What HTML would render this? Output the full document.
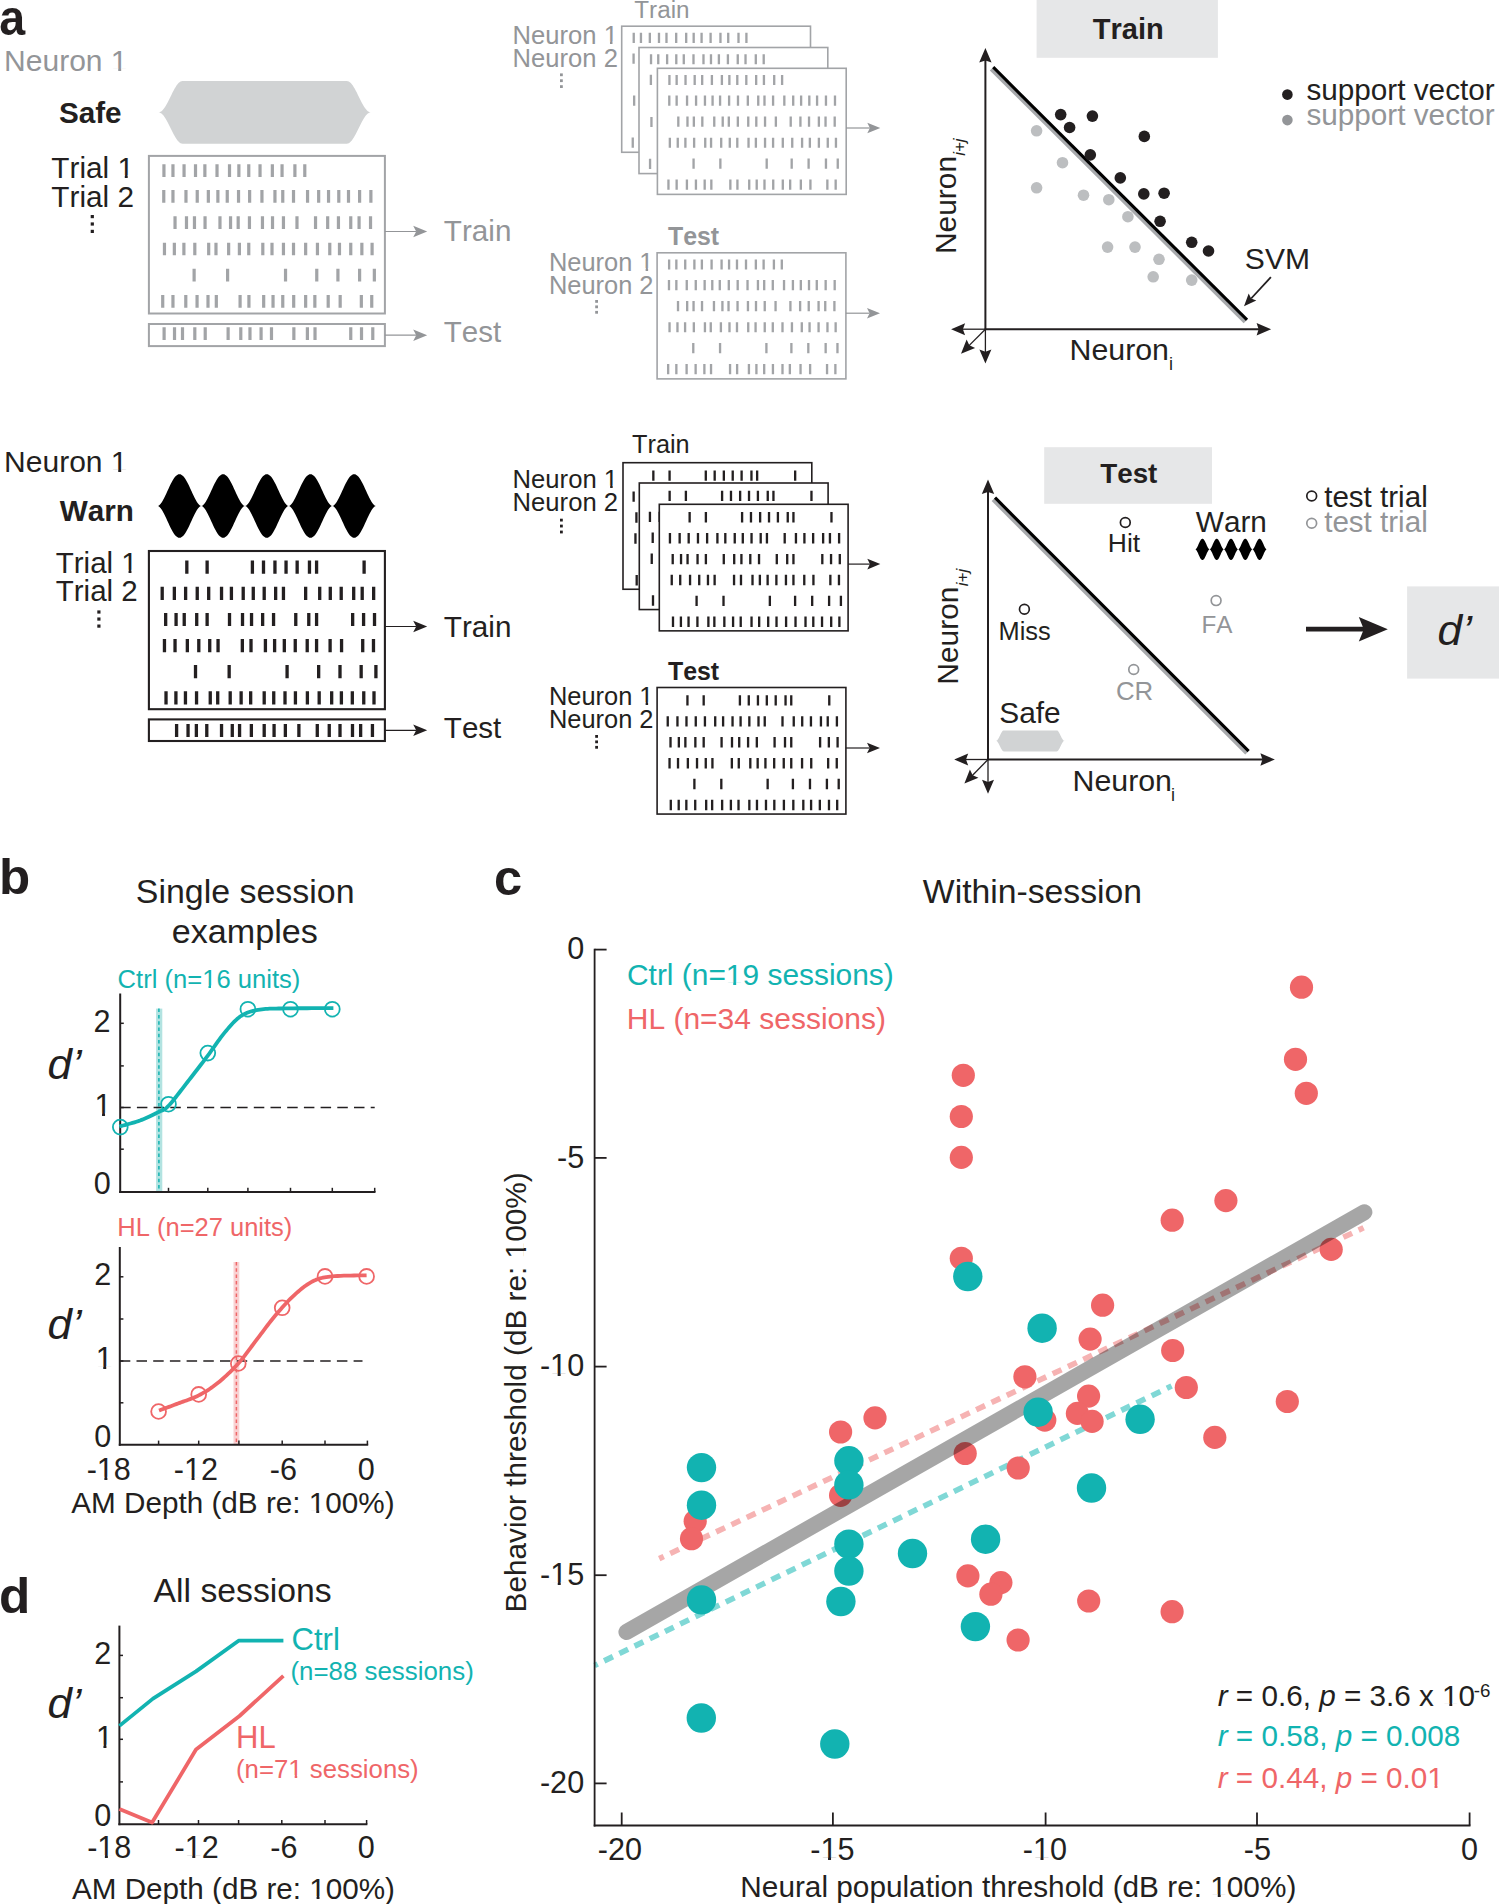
<!DOCTYPE html>
<html><head><meta charset="utf-8"><style>
html,body{margin:0;padding:0;background:#fff;overflow:hidden;}
svg{display:block;}
text{font-family:"Liberation Sans", sans-serif;font-kerning:none;}
</style></head><body>
<svg width="1499" height="1904" viewBox="0 0 1499 1904">
<defs></defs>
<rect width="1499" height="1904" fill="#fff"/>
<g transform="translate(-0.8 34.69) scale(0.9172 1)"><text x="0" y="0" font-size="50.78" font-weight="bold" fill="#231f20" xml:space="preserve">a</text></g>
<g transform="translate(4.12 71.1) scale(1.0000 1)"><text x="0" y="0" font-size="30" fill="#939598" xml:space="preserve">Neuron 1</text><rect x="107.63" y="-2.85" width="6.48" height="3.75" fill="#fff"/><rect x="117.05" y="-2.85" width="6.48" height="3.75" fill="#fff"/></g>
<g transform="translate(58.91 123.2) scale(1.0000 1)"><text x="0" y="0" font-size="29.69" font-weight="bold" fill="#231f20" xml:space="preserve">Safe</text></g>
<path d="M158.5,112.35 L159.5,112.22 L160.5,111.82 L161.5,111.16 L162.5,110.25 L163.5,109.11 L164.5,107.76 L165.5,106.22 L166.5,104.51 L167.5,102.67 L168.5,100.73 L169.5,98.72 L170.5,96.67 L171.5,94.63 L172.5,92.62 L173.5,90.68 L174.5,88.84 L175.5,87.13 L176.5,85.59 L177.5,84.24 L178.5,83.1 L179.5,82.19 L180.5,81.53 L181.5,81.13 L182.5,81 L346.8,81 L347.8,81.13 L348.8,81.53 L349.8,82.19 L350.8,83.1 L351.8,84.24 L352.8,85.59 L353.8,87.13 L354.8,88.84 L355.8,90.68 L356.8,92.62 L357.8,94.63 L358.8,96.67 L359.8,98.72 L360.8,100.73 L361.8,102.67 L362.8,104.51 L363.8,106.22 L364.8,107.76 L365.8,109.11 L366.8,110.25 L367.8,111.16 L368.8,111.82 L369.8,112.22 L370.8,112.35 L370.8,112.35 L369.8,112.48 L368.8,112.88 L367.8,113.54 L366.8,114.45 L365.8,115.59 L364.8,116.94 L363.8,118.48 L362.8,120.19 L361.8,122.03 L360.8,123.97 L359.8,125.98 L358.8,128.02 L357.8,130.07 L356.8,132.08 L355.8,134.02 L354.8,135.86 L353.8,137.57 L352.8,139.11 L351.8,140.46 L350.8,141.6 L349.8,142.51 L348.8,143.17 L347.8,143.57 L346.8,143.7 L182.5,143.7 L181.5,143.57 L180.5,143.17 L179.5,142.51 L178.5,141.6 L177.5,140.46 L176.5,139.11 L175.5,137.57 L174.5,135.86 L173.5,134.02 L172.5,132.08 L171.5,130.07 L170.5,128.02 L169.5,125.98 L168.5,123.97 L167.5,122.03 L166.5,120.19 L165.5,118.48 L164.5,116.94 L163.5,115.59 L162.5,114.45 L161.5,113.54 L160.5,112.88 L159.5,112.48 L158.5,112.35Z" fill="#d1d3d4"/>
<g transform="translate(51.33 206.6) scale(1.0000 1)"><text x="0" y="0" font-size="29.76" fill="#231f20" xml:space="preserve">Trial 2</text></g>
<g transform="translate(51.33 177.8) scale(1.0000 1)"><text x="0" y="0" font-size="29.76" fill="#231f20" xml:space="preserve">Trial 1</text><rect x="67.03" y="-2.83" width="6.43" height="3.72" fill="#fff"/><rect x="76.37" y="-2.83" width="6.43" height="3.72" fill="#fff"/></g>
<rect x="90.7" y="215" width="3.2" height="3.2" fill="#231f20" stroke="none" stroke-width="0"/>
<rect x="90.7" y="222.4" width="3.2" height="3.2" fill="#231f20" stroke="none" stroke-width="0"/>
<rect x="90.7" y="229.8" width="3.2" height="3.2" fill="#231f20" stroke="none" stroke-width="0"/>
<rect x="148.9" y="155.9" width="236" height="157.6" fill="none" stroke="#a2a4a7" stroke-width="2"/>
<path d="M163.94,164.2v12.7M172.96,164.2v12.7M184.06,164.2v12.7M195.51,164.2v12.7M204.87,164.2v12.7M217.02,164.2v12.7M229.51,164.2v12.7M238.87,164.2v12.7M248.76,164.2v12.7M260.03,164.2v12.7M272.35,164.2v12.7M282.06,164.2v12.7M294.9,164.2v12.7M304.79,164.2v12.7" stroke="#a2a4a7" stroke-width="3.2" fill="none"/>
<path d="M163.76,190.05v12.7M172.96,190.05v12.7M185.97,190.05v12.7M197.24,190.05v12.7M208.34,190.05v12.7M217.88,190.05v12.7M227.25,190.05v12.7M238.53,190.05v12.7M249.63,190.05v12.7M261.94,190.05v12.7M274.95,190.05v12.7M282.76,190.05v12.7M293.51,190.05v12.7M307.56,190.05v12.7M318.66,190.05v12.7M328.55,190.05v12.7M338.79,190.05v12.7M348.5,190.05v12.7M359.6,190.05v12.7M370.88,190.05v12.7" stroke="#a2a4a7" stroke-width="3.2" fill="none"/>
<path d="M175.04,216.3v12.7M186.49,216.3v12.7M194.47,216.3v12.7M205.05,216.3v12.7M219.97,216.3v12.7M230.55,216.3v12.7M238.18,216.3v12.7M249.45,216.3v12.7M262.46,216.3v12.7M272.52,216.3v12.7M283.45,216.3v12.7M296.98,216.3v12.7M315.54,216.3v12.7M327.68,216.3v12.7M338.44,216.3v12.7M350.75,216.3v12.7M359.08,216.3v12.7M370.53,216.3v12.7" stroke="#a2a4a7" stroke-width="3.2" fill="none"/>
<path d="M164.46,242.65v12.7M174.35,242.65v12.7M183.89,242.65v12.7M194.81,242.65v12.7M208.69,242.65v12.7M215.98,242.65v12.7M228.64,242.65v12.7M239.39,242.65v12.7M248.76,242.65v12.7M262.81,242.65v12.7M272,242.65v12.7M283.45,242.65v12.7M293.51,242.65v12.7M305.65,242.65v12.7M317.45,242.65v12.7M329.77,242.65v12.7M339.48,242.65v12.7M350.75,242.65v12.7M361.86,242.65v12.7M372.09,242.65v12.7" stroke="#a2a4a7" stroke-width="3.2" fill="none"/>
<path d="M194.12,268.7v12.7M227.6,268.7v12.7M285.53,268.7v12.7M316.76,268.7v12.7M337.92,268.7v12.7M359.6,268.7v12.7M374.35,268.7v12.7" stroke="#a2a4a7" stroke-width="3.2" fill="none"/>
<path d="M162.72,295v12.7M172.96,295v12.7M185.79,295v12.7M197.07,295v12.7M208,295v12.7M216.32,295v12.7M240.09,295v12.7M248.93,295v12.7M263.68,295v12.7M273.04,295v12.7M282.76,295v12.7M293.69,295v12.7M305.65,295v12.7M314.85,295v12.7M328.2,295v12.7M340.17,295v12.7M361.34,295v12.7M371.74,295v12.7" stroke="#a2a4a7" stroke-width="3.2" fill="none"/>
<rect x="148.9" y="324" width="236" height="22.1" fill="none" stroke="#a2a4a7" stroke-width="2"/>
<path d="M164.11,327.3v12.7M174.52,327.3v12.7M182.5,327.3v12.7M194.81,327.3v12.7M205.22,327.3v12.7M228.12,327.3v12.7M240.78,327.3v12.7M249.97,327.3v12.7M261.08,327.3v12.7M271.48,327.3v12.7M293.86,327.3v12.7M307.39,327.3v12.7M315.02,327.3v12.7M350.75,327.3v12.7M361.51,327.3v12.7M372.78,327.3v12.7" stroke="#a2a4a7" stroke-width="3.2" fill="none"/>
<line x1="384.9" y1="231.5" x2="416.2" y2="231.5" stroke="#939598" stroke-width="1.2"/>
<path d="M427.2,231.5 L413.2,237.3 L416.2,231.5 L413.2,225.7 Z" fill="#939598"/>
<line x1="384.9" y1="335.2" x2="416.2" y2="335.2" stroke="#939598" stroke-width="1.2"/>
<path d="M427.2,335.2 L413.2,341 L416.2,335.2 L413.2,329.4 Z" fill="#939598"/>
<g transform="translate(443.83 241) scale(1.0000 1)"><text x="0" y="0" font-size="29.65" fill="#939598" xml:space="preserve">Train</text></g>
<g transform="translate(443.84 342) scale(1.0000 1)"><text x="0" y="0" font-size="29.5" fill="#939598" xml:space="preserve">Test</text></g>
<g transform="translate(634.25 18.1) scale(1.0000 1)"><text x="0" y="0" font-size="24.26" fill="#939598" xml:space="preserve">Train</text></g>
<g transform="translate(512.59 66.7) scale(1.0000 1)"><text x="0" y="0" font-size="25.6" fill="#939598" xml:space="preserve">Neuron 2</text></g>
<g transform="translate(512.59 44) scale(1.0000 1)"><text x="0" y="0" font-size="25.6" fill="#939598" xml:space="preserve">Neuron 1</text><rect x="91.86" y="-2.43" width="5.53" height="3.2" fill="#fff"/><rect x="99.9" y="-2.43" width="5.53" height="3.2" fill="#fff"/></g>
<rect x="560" y="73.4" width="2.8" height="2.8" fill="#939598" stroke="none" stroke-width="0"/>
<rect x="560" y="79.3" width="2.8" height="2.8" fill="#939598" stroke="none" stroke-width="0"/>
<rect x="560" y="85.2" width="2.8" height="2.8" fill="#939598" stroke="none" stroke-width="0"/>
<g transform="translate(621.7 26.2) scale(0.8)"><rect x="0" y="0" width="236" height="157.6" fill="#fff" stroke="#a2a4a7" stroke-width="2"/><path d="M15.04,8.3v12.7M24.06,8.3v12.7M35.16,8.3v12.7M46.61,8.3v12.7M55.97,8.3v12.7M68.12,8.3v12.7M80.61,8.3v12.7M89.97,8.3v12.7M99.86,8.3v12.7M111.13,8.3v12.7M123.45,8.3v12.7M133.16,8.3v12.7M146,8.3v12.7M155.89,8.3v12.7M14.86,34.15v12.7M24.06,34.15v12.7M37.07,34.15v12.7M48.34,34.15v12.7M59.44,34.15v12.7M68.98,34.15v12.7M78.35,34.15v12.7M89.63,34.15v12.7M100.73,34.15v12.7M113.04,34.15v12.7M126.05,34.15v12.7M133.86,34.15v12.7M144.61,34.15v12.7M158.66,34.15v12.7M169.76,34.15v12.7M179.65,34.15v12.7M189.89,34.15v12.7M199.6,34.15v12.7M210.7,34.15v12.7M221.98,34.15v12.7M26.14,60.4v12.7M37.59,60.4v12.7M45.57,60.4v12.7M56.15,60.4v12.7M71.07,60.4v12.7M81.65,60.4v12.7M89.28,60.4v12.7M100.55,60.4v12.7M113.56,60.4v12.7M123.62,60.4v12.7M134.55,60.4v12.7M148.08,60.4v12.7M166.64,60.4v12.7M178.78,60.4v12.7M189.54,60.4v12.7M201.85,60.4v12.7M210.18,60.4v12.7M221.63,60.4v12.7M15.56,86.75v12.7M25.45,86.75v12.7M34.99,86.75v12.7M45.91,86.75v12.7M59.79,86.75v12.7M67.08,86.75v12.7M79.74,86.75v12.7M90.49,86.75v12.7M99.86,86.75v12.7M113.91,86.75v12.7M123.1,86.75v12.7M134.55,86.75v12.7M144.61,86.75v12.7M156.75,86.75v12.7M168.55,86.75v12.7M180.87,86.75v12.7M190.58,86.75v12.7M201.85,86.75v12.7M212.96,86.75v12.7M223.19,86.75v12.7M45.22,112.8v12.7M78.7,112.8v12.7M136.63,112.8v12.7M167.86,112.8v12.7M189.02,112.8v12.7M210.7,112.8v12.7M225.45,112.8v12.7M13.82,139.1v12.7M24.06,139.1v12.7M36.89,139.1v12.7M48.17,139.1v12.7M59.1,139.1v12.7M67.42,139.1v12.7M91.19,139.1v12.7M100.03,139.1v12.7M114.78,139.1v12.7M124.14,139.1v12.7M133.86,139.1v12.7M144.79,139.1v12.7M156.75,139.1v12.7M165.95,139.1v12.7M179.3,139.1v12.7M191.27,139.1v12.7M212.44,139.1v12.7M222.84,139.1v12.7" stroke="#a2a4a7" stroke-width="2.9" fill="none"/></g>
<g transform="translate(639 47.5) scale(0.8)"><rect x="0" y="0" width="236" height="157.6" fill="#fff" stroke="#a2a4a7" stroke-width="2"/><path d="M15.04,8.3v12.7M24.06,8.3v12.7M35.16,8.3v12.7M46.61,8.3v12.7M55.97,8.3v12.7M68.12,8.3v12.7M80.61,8.3v12.7M89.97,8.3v12.7M99.86,8.3v12.7M111.13,8.3v12.7M123.45,8.3v12.7M133.16,8.3v12.7M146,8.3v12.7M155.89,8.3v12.7M14.86,34.15v12.7M24.06,34.15v12.7M37.07,34.15v12.7M48.34,34.15v12.7M59.44,34.15v12.7M68.98,34.15v12.7M78.35,34.15v12.7M89.63,34.15v12.7M100.73,34.15v12.7M113.04,34.15v12.7M126.05,34.15v12.7M133.86,34.15v12.7M144.61,34.15v12.7M158.66,34.15v12.7M169.76,34.15v12.7M179.65,34.15v12.7M189.89,34.15v12.7M199.6,34.15v12.7M210.7,34.15v12.7M221.98,34.15v12.7M26.14,60.4v12.7M37.59,60.4v12.7M45.57,60.4v12.7M56.15,60.4v12.7M71.07,60.4v12.7M81.65,60.4v12.7M89.28,60.4v12.7M100.55,60.4v12.7M113.56,60.4v12.7M123.62,60.4v12.7M134.55,60.4v12.7M148.08,60.4v12.7M166.64,60.4v12.7M178.78,60.4v12.7M189.54,60.4v12.7M201.85,60.4v12.7M210.18,60.4v12.7M221.63,60.4v12.7M15.56,86.75v12.7M25.45,86.75v12.7M34.99,86.75v12.7M45.91,86.75v12.7M59.79,86.75v12.7M67.08,86.75v12.7M79.74,86.75v12.7M90.49,86.75v12.7M99.86,86.75v12.7M113.91,86.75v12.7M123.1,86.75v12.7M134.55,86.75v12.7M144.61,86.75v12.7M156.75,86.75v12.7M168.55,86.75v12.7M180.87,86.75v12.7M190.58,86.75v12.7M201.85,86.75v12.7M212.96,86.75v12.7M223.19,86.75v12.7M45.22,112.8v12.7M78.7,112.8v12.7M136.63,112.8v12.7M167.86,112.8v12.7M189.02,112.8v12.7M210.7,112.8v12.7M225.45,112.8v12.7M13.82,139.1v12.7M24.06,139.1v12.7M36.89,139.1v12.7M48.17,139.1v12.7M59.1,139.1v12.7M67.42,139.1v12.7M91.19,139.1v12.7M100.03,139.1v12.7M114.78,139.1v12.7M124.14,139.1v12.7M133.86,139.1v12.7M144.79,139.1v12.7M156.75,139.1v12.7M165.95,139.1v12.7M179.3,139.1v12.7M191.27,139.1v12.7M212.44,139.1v12.7M222.84,139.1v12.7" stroke="#a2a4a7" stroke-width="2.9" fill="none"/></g>
<g transform="translate(657.4 68.3) scale(0.8)"><rect x="0" y="0" width="236" height="157.6" fill="#fff" stroke="#a2a4a7" stroke-width="2"/><path d="M15.04,8.3v12.7M24.06,8.3v12.7M35.16,8.3v12.7M46.61,8.3v12.7M55.97,8.3v12.7M68.12,8.3v12.7M80.61,8.3v12.7M89.97,8.3v12.7M99.86,8.3v12.7M111.13,8.3v12.7M123.45,8.3v12.7M133.16,8.3v12.7M146,8.3v12.7M155.89,8.3v12.7M14.86,34.15v12.7M24.06,34.15v12.7M37.07,34.15v12.7M48.34,34.15v12.7M59.44,34.15v12.7M68.98,34.15v12.7M78.35,34.15v12.7M89.63,34.15v12.7M100.73,34.15v12.7M113.04,34.15v12.7M126.05,34.15v12.7M133.86,34.15v12.7M144.61,34.15v12.7M158.66,34.15v12.7M169.76,34.15v12.7M179.65,34.15v12.7M189.89,34.15v12.7M199.6,34.15v12.7M210.7,34.15v12.7M221.98,34.15v12.7M26.14,60.4v12.7M37.59,60.4v12.7M45.57,60.4v12.7M56.15,60.4v12.7M71.07,60.4v12.7M81.65,60.4v12.7M89.28,60.4v12.7M100.55,60.4v12.7M113.56,60.4v12.7M123.62,60.4v12.7M134.55,60.4v12.7M148.08,60.4v12.7M166.64,60.4v12.7M178.78,60.4v12.7M189.54,60.4v12.7M201.85,60.4v12.7M210.18,60.4v12.7M221.63,60.4v12.7M15.56,86.75v12.7M25.45,86.75v12.7M34.99,86.75v12.7M45.91,86.75v12.7M59.79,86.75v12.7M67.08,86.75v12.7M79.74,86.75v12.7M90.49,86.75v12.7M99.86,86.75v12.7M113.91,86.75v12.7M123.1,86.75v12.7M134.55,86.75v12.7M144.61,86.75v12.7M156.75,86.75v12.7M168.55,86.75v12.7M180.87,86.75v12.7M190.58,86.75v12.7M201.85,86.75v12.7M212.96,86.75v12.7M223.19,86.75v12.7M45.22,112.8v12.7M78.7,112.8v12.7M136.63,112.8v12.7M167.86,112.8v12.7M189.02,112.8v12.7M210.7,112.8v12.7M225.45,112.8v12.7M13.82,139.1v12.7M24.06,139.1v12.7M36.89,139.1v12.7M48.17,139.1v12.7M59.1,139.1v12.7M67.42,139.1v12.7M91.19,139.1v12.7M100.03,139.1v12.7M114.78,139.1v12.7M124.14,139.1v12.7M133.86,139.1v12.7M144.79,139.1v12.7M156.75,139.1v12.7M165.95,139.1v12.7M179.3,139.1v12.7M191.27,139.1v12.7M212.44,139.1v12.7M222.84,139.1v12.7" stroke="#a2a4a7" stroke-width="2.9" fill="none"/></g>
<line x1="846.2" y1="128" x2="869.9" y2="128" stroke="#939598" stroke-width="1.2"/>
<path d="M880.3,128 L867.3,133.3 L869.9,128 L867.3,122.7 Z" fill="#939598"/>
<g transform="translate(667.95 245.1) scale(1.0000 1)"><text x="0" y="0" font-size="24.9" font-weight="bold" fill="#939598" xml:space="preserve">Test</text></g>
<g transform="translate(548.9 293.5) scale(1.0000 1)"><text x="0" y="0" font-size="25.43" fill="#939598" xml:space="preserve">Neuron 2</text></g>
<g transform="translate(548.9 270.5) scale(1.0000 1)"><text x="0" y="0" font-size="25.43" fill="#939598" xml:space="preserve">Neuron 1</text><rect x="91.23" y="-2.42" width="5.49" height="3.18" fill="#fff"/><rect x="99.21" y="-2.42" width="5.49" height="3.18" fill="#fff"/></g>
<rect x="595.2" y="300" width="2.8" height="2.8" fill="#939598" stroke="none" stroke-width="0"/>
<rect x="595.2" y="305.45" width="2.8" height="2.8" fill="#939598" stroke="none" stroke-width="0"/>
<rect x="595.2" y="310.9" width="2.8" height="2.8" fill="#939598" stroke="none" stroke-width="0"/>
<g transform="translate(657.1 252.8) scale(0.8)"><rect x="0" y="0" width="236" height="157.6" fill="#fff" stroke="#a2a4a7" stroke-width="2"/><path d="M15.04,8.3v12.7M24.06,8.3v12.7M35.16,8.3v12.7M46.61,8.3v12.7M55.97,8.3v12.7M68.12,8.3v12.7M80.61,8.3v12.7M89.97,8.3v12.7M99.86,8.3v12.7M111.13,8.3v12.7M123.45,8.3v12.7M133.16,8.3v12.7M146,8.3v12.7M155.89,8.3v12.7M14.86,34.15v12.7M24.06,34.15v12.7M37.07,34.15v12.7M48.34,34.15v12.7M59.44,34.15v12.7M68.98,34.15v12.7M78.35,34.15v12.7M89.63,34.15v12.7M100.73,34.15v12.7M113.04,34.15v12.7M126.05,34.15v12.7M133.86,34.15v12.7M144.61,34.15v12.7M158.66,34.15v12.7M169.76,34.15v12.7M179.65,34.15v12.7M189.89,34.15v12.7M199.6,34.15v12.7M210.7,34.15v12.7M221.98,34.15v12.7M26.14,60.4v12.7M37.59,60.4v12.7M45.57,60.4v12.7M56.15,60.4v12.7M71.07,60.4v12.7M81.65,60.4v12.7M89.28,60.4v12.7M100.55,60.4v12.7M113.56,60.4v12.7M123.62,60.4v12.7M134.55,60.4v12.7M148.08,60.4v12.7M166.64,60.4v12.7M178.78,60.4v12.7M189.54,60.4v12.7M201.85,60.4v12.7M210.18,60.4v12.7M221.63,60.4v12.7M15.56,86.75v12.7M25.45,86.75v12.7M34.99,86.75v12.7M45.91,86.75v12.7M59.79,86.75v12.7M67.08,86.75v12.7M79.74,86.75v12.7M90.49,86.75v12.7M99.86,86.75v12.7M113.91,86.75v12.7M123.1,86.75v12.7M134.55,86.75v12.7M144.61,86.75v12.7M156.75,86.75v12.7M168.55,86.75v12.7M180.87,86.75v12.7M190.58,86.75v12.7M201.85,86.75v12.7M212.96,86.75v12.7M223.19,86.75v12.7M45.22,112.8v12.7M78.7,112.8v12.7M136.63,112.8v12.7M167.86,112.8v12.7M189.02,112.8v12.7M210.7,112.8v12.7M225.45,112.8v12.7M13.82,139.1v12.7M24.06,139.1v12.7M36.89,139.1v12.7M48.17,139.1v12.7M59.1,139.1v12.7M67.42,139.1v12.7M91.19,139.1v12.7M100.03,139.1v12.7M114.78,139.1v12.7M124.14,139.1v12.7M133.86,139.1v12.7M144.79,139.1v12.7M156.75,139.1v12.7M165.95,139.1v12.7M179.3,139.1v12.7M191.27,139.1v12.7M212.44,139.1v12.7M222.84,139.1v12.7" stroke="#a2a4a7" stroke-width="2.9" fill="none"/></g>
<line x1="845.9" y1="313.2" x2="869.6" y2="313.2" stroke="#939598" stroke-width="1.2"/>
<path d="M880,313.2 L867,318.5 L869.6,313.2 L867,307.9 Z" fill="#939598"/>
<rect x="1036.6" y="0" width="181.3" height="57.8" fill="#e6e7e8" stroke="none" stroke-width="0"/>
<g transform="translate(1092.71 39.3) scale(1.0000 1)"><text x="0" y="0" font-size="29.05" font-weight="bold" fill="#231f20" xml:space="preserve">Train</text></g>
<line x1="985.4" y1="329.2" x2="985.4" y2="59.9" stroke="#231f20" stroke-width="2"/>
<path d="M985.4,47.9 L991.6,62.4 L985.4,60.4 L979.2,62.4 Z" fill="#231f20"/>
<line x1="984.8" y1="329.2" x2="1259.1" y2="329.2" stroke="#231f20" stroke-width="2"/>
<path d="M1271.1,329.2 L1256.6,335.4 L1258.6,329.2 L1256.6,323 Z" fill="#231f20"/>
<line x1="985.4" y1="329.2" x2="962.1" y2="329.2" stroke="#231f20" stroke-width="1.3"/>
<path d="M951.1,329.2 L965.1,323.2 L962.9,329.2 L965.1,335.2 Z" fill="#231f20"/>
<line x1="985.4" y1="329.2" x2="985.4" y2="352.6" stroke="#231f20" stroke-width="1.3"/>
<path d="M985.4,363.6 L979.4,349.6 L985.4,351.8 L991.4,349.6 Z" fill="#231f20"/>
<line x1="985.4" y1="329.2" x2="968.76" y2="345.91" stroke="#231f20" stroke-width="1.3"/>
<path d="M961,353.7 L966.63,339.55 L969.33,345.34 L975.13,348.01 Z" fill="#231f20"/>
<line x1="991" y1="69.4" x2="1244.8" y2="322.1" stroke="#a7a9ac" stroke-width="3.3"/>
<line x1="993.2" y1="67.2" x2="1247" y2="319.9" stroke="#000" stroke-width="3.2"/>
<circle cx="1036.6" cy="130.8" r="5.8" fill="#bcbec0" stroke="none" stroke-width="0"/>
<circle cx="1062.5" cy="162.7" r="5.8" fill="#bcbec0" stroke="none" stroke-width="0"/>
<circle cx="1036.6" cy="187.8" r="5.8" fill="#bcbec0" stroke="none" stroke-width="0"/>
<circle cx="1083.5" cy="195.2" r="5.8" fill="#bcbec0" stroke="none" stroke-width="0"/>
<circle cx="1108.8" cy="199.7" r="5.8" fill="#bcbec0" stroke="none" stroke-width="0"/>
<circle cx="1127.9" cy="216.7" r="5.8" fill="#bcbec0" stroke="none" stroke-width="0"/>
<circle cx="1107.6" cy="247.1" r="5.8" fill="#bcbec0" stroke="none" stroke-width="0"/>
<circle cx="1135" cy="247.1" r="5.8" fill="#bcbec0" stroke="none" stroke-width="0"/>
<circle cx="1159" cy="259.3" r="5.8" fill="#bcbec0" stroke="none" stroke-width="0"/>
<circle cx="1153.2" cy="276.8" r="5.8" fill="#bcbec0" stroke="none" stroke-width="0"/>
<circle cx="1191.7" cy="280.1" r="5.8" fill="#bcbec0" stroke="none" stroke-width="0"/>
<circle cx="1060.7" cy="114.6" r="5.8" fill="#231f20" stroke="none" stroke-width="0"/>
<circle cx="1092.4" cy="116.1" r="5.8" fill="#231f20" stroke="none" stroke-width="0"/>
<circle cx="1069.6" cy="127.5" r="5.8" fill="#231f20" stroke="none" stroke-width="0"/>
<circle cx="1144.3" cy="136.4" r="5.8" fill="#231f20" stroke="none" stroke-width="0"/>
<circle cx="1090.3" cy="154.9" r="5.8" fill="#231f20" stroke="none" stroke-width="0"/>
<circle cx="1120.3" cy="177.9" r="5.8" fill="#231f20" stroke="none" stroke-width="0"/>
<circle cx="1143.8" cy="193.9" r="5.8" fill="#231f20" stroke="none" stroke-width="0"/>
<circle cx="1164.1" cy="193.2" r="5.8" fill="#231f20" stroke="none" stroke-width="0"/>
<circle cx="1160.1" cy="221.3" r="5.8" fill="#231f20" stroke="none" stroke-width="0"/>
<circle cx="1191.7" cy="242.3" r="5.8" fill="#231f20" stroke="none" stroke-width="0"/>
<circle cx="1208.5" cy="251" r="5.8" fill="#231f20" stroke="none" stroke-width="0"/>
<g transform="translate(955.6 254.07) rotate(-90) scale(1.0000 1)"><text x="0" y="0" font-size="29.91" fill="#231f20" xml:space="preserve">Neuron</text></g>
<g transform="translate(964.9 155.86) rotate(-90) scale(1.0000 1)"><text x="0" y="0" font-size="17" font-style="italic" fill="#231f20" xml:space="preserve">i+j</text></g>
<g transform="translate(1069.5 360) scale(1.0000 1)"><text x="0" y="0" font-size="30.33" fill="#231f20" xml:space="preserve">Neuron</text></g>
<g transform="translate(1168.9 370) scale(1.0000 1)"><text x="0" y="0" font-size="18" fill="#231f20" xml:space="preserve">i</text></g>
<g transform="translate(1244.85 268.5) scale(1.0000 1)"><text x="0" y="0" font-size="30.05" fill="#231f20" xml:space="preserve">SVM</text></g>
<line x1="1270.9" y1="277.2" x2="1251.14" y2="298.5" stroke="#231f20" stroke-width="1.8"/>
<path d="M1244,306.2 L1248.69,293.5 L1251.14,298.5 L1256.31,300.57 Z" fill="#231f20"/>
<circle cx="1287.4" cy="94.6" r="5.3" fill="#231f20" stroke="none" stroke-width="0"/>
<circle cx="1287.4" cy="120.1" r="5.3" fill="#939598" stroke="none" stroke-width="0"/>
<g transform="translate(1306.38 99.8) scale(1.0000 1)"><text x="0" y="0" font-size="29.72" fill="#231f20" xml:space="preserve">support vector</text></g>
<g transform="translate(1306.38 125) scale(1.0000 1)"><text x="0" y="0" font-size="29.72" fill="#939598" xml:space="preserve">support vector</text></g>
<g transform="translate(4.12 472.2) scale(1.0000 1)"><text x="0" y="0" font-size="30" fill="#231f20" xml:space="preserve">Neuron 1</text><rect x="107.63" y="-2.85" width="6.48" height="3.75" fill="#fff"/><rect x="117.05" y="-2.85" width="6.48" height="3.75" fill="#fff"/></g>
<g transform="translate(59.8 521) scale(1.0000 1)"><text x="0" y="0" font-size="29.67" font-weight="bold" fill="#231f20" xml:space="preserve">Warn</text></g>
<path d="M157.6,506 L158.69,505.63 L159.78,504.76 L160.88,503.51 L161.97,501.93 L163.06,500.08 L164.15,498.02 L165.24,495.79 L166.34,493.45 L167.43,491.06 L168.52,488.66 L169.61,486.31 L170.7,484.05 L171.8,481.94 L172.89,480.02 L173.98,478.31 L175.07,476.87 L176.16,475.72 L177.26,474.88 L178.35,474.37 L179.44,474.2 L180.53,474.37 L181.62,474.88 L182.72,475.72 L183.81,476.87 L184.9,478.31 L185.99,480.02 L187.08,481.94 L188.18,484.05 L189.27,486.31 L190.36,488.66 L191.45,491.06 L192.54,493.45 L193.64,495.79 L194.73,498.02 L195.82,500.08 L196.91,501.93 L198,503.51 L199.1,504.76 L200.19,505.63 L201.28,506 L202.37,505.63 L203.46,504.76 L204.56,503.51 L205.65,501.93 L206.74,500.08 L207.83,498.02 L208.92,495.79 L210.02,493.45 L211.11,491.06 L212.2,488.66 L213.29,486.31 L214.38,484.05 L215.48,481.94 L216.57,480.02 L217.66,478.31 L218.75,476.87 L219.84,475.72 L220.94,474.88 L222.03,474.37 L223.12,474.2 L224.21,474.37 L225.3,474.88 L226.4,475.72 L227.49,476.87 L228.58,478.31 L229.67,480.02 L230.76,481.94 L231.86,484.05 L232.95,486.31 L234.04,488.66 L235.13,491.06 L236.22,493.45 L237.32,495.79 L238.41,498.02 L239.5,500.08 L240.59,501.93 L241.68,503.51 L242.78,504.76 L243.87,505.63 L244.96,506 L246.05,505.63 L247.14,504.76 L248.24,503.51 L249.33,501.93 L250.42,500.08 L251.51,498.02 L252.6,495.79 L253.7,493.45 L254.79,491.06 L255.88,488.66 L256.97,486.31 L258.06,484.05 L259.16,481.94 L260.25,480.02 L261.34,478.31 L262.43,476.87 L263.52,475.72 L264.62,474.88 L265.71,474.37 L266.8,474.2 L267.89,474.37 L268.98,474.88 L270.08,475.72 L271.17,476.87 L272.26,478.31 L273.35,480.02 L274.44,481.94 L275.54,484.05 L276.63,486.31 L277.72,488.66 L278.81,491.06 L279.9,493.45 L281,495.79 L282.09,498.02 L283.18,500.08 L284.27,501.93 L285.36,503.51 L286.46,504.76 L287.55,505.63 L288.64,506 L289.73,505.63 L290.82,504.76 L291.92,503.51 L293.01,501.93 L294.1,500.08 L295.19,498.02 L296.28,495.79 L297.38,493.45 L298.47,491.06 L299.56,488.66 L300.65,486.31 L301.74,484.05 L302.84,481.94 L303.93,480.02 L305.02,478.31 L306.11,476.87 L307.2,475.72 L308.3,474.88 L309.39,474.37 L310.48,474.2 L311.57,474.37 L312.66,474.88 L313.76,475.72 L314.85,476.87 L315.94,478.31 L317.03,480.02 L318.12,481.94 L319.22,484.05 L320.31,486.31 L321.4,488.66 L322.49,491.06 L323.58,493.45 L324.68,495.79 L325.77,498.02 L326.86,500.08 L327.95,501.93 L329.04,503.51 L330.14,504.76 L331.23,505.63 L332.32,506 L333.41,505.63 L334.5,504.76 L335.6,503.51 L336.69,501.93 L337.78,500.08 L338.87,498.02 L339.96,495.79 L341.06,493.45 L342.15,491.06 L343.24,488.66 L344.33,486.31 L345.42,484.05 L346.52,481.94 L347.61,480.02 L348.7,478.31 L349.79,476.87 L350.88,475.72 L351.98,474.88 L353.07,474.37 L354.16,474.2 L355.25,474.37 L356.34,474.88 L357.44,475.72 L358.53,476.87 L359.62,478.31 L360.71,480.02 L361.8,481.94 L362.9,484.05 L363.99,486.31 L365.08,488.66 L366.17,491.06 L367.26,493.45 L368.36,495.79 L369.45,498.02 L370.54,500.08 L371.63,501.93 L372.72,503.51 L373.82,504.76 L374.91,505.63 L376,506 L376,506 L374.91,506.37 L373.82,507.24 L372.72,508.49 L371.63,510.07 L370.54,511.92 L369.45,513.98 L368.36,516.21 L367.26,518.55 L366.17,520.94 L365.08,523.34 L363.99,525.69 L362.9,527.95 L361.8,530.06 L360.71,531.98 L359.62,533.69 L358.53,535.13 L357.44,536.28 L356.34,537.12 L355.25,537.63 L354.16,537.8 L353.07,537.63 L351.98,537.12 L350.88,536.28 L349.79,535.13 L348.7,533.69 L347.61,531.98 L346.52,530.06 L345.42,527.95 L344.33,525.69 L343.24,523.34 L342.15,520.94 L341.06,518.55 L339.96,516.21 L338.87,513.98 L337.78,511.92 L336.69,510.07 L335.6,508.49 L334.5,507.24 L333.41,506.37 L332.32,506 L331.23,506.37 L330.14,507.24 L329.04,508.49 L327.95,510.07 L326.86,511.92 L325.77,513.98 L324.68,516.21 L323.58,518.55 L322.49,520.94 L321.4,523.34 L320.31,525.69 L319.22,527.95 L318.12,530.06 L317.03,531.98 L315.94,533.69 L314.85,535.13 L313.76,536.28 L312.66,537.12 L311.57,537.63 L310.48,537.8 L309.39,537.63 L308.3,537.12 L307.2,536.28 L306.11,535.13 L305.02,533.69 L303.93,531.98 L302.84,530.06 L301.74,527.95 L300.65,525.69 L299.56,523.34 L298.47,520.94 L297.38,518.55 L296.28,516.21 L295.19,513.98 L294.1,511.92 L293.01,510.07 L291.92,508.49 L290.82,507.24 L289.73,506.37 L288.64,506 L287.55,506.37 L286.46,507.24 L285.36,508.49 L284.27,510.07 L283.18,511.92 L282.09,513.98 L281,516.21 L279.9,518.55 L278.81,520.94 L277.72,523.34 L276.63,525.69 L275.54,527.95 L274.44,530.06 L273.35,531.98 L272.26,533.69 L271.17,535.13 L270.08,536.28 L268.98,537.12 L267.89,537.63 L266.8,537.8 L265.71,537.63 L264.62,537.12 L263.52,536.28 L262.43,535.13 L261.34,533.69 L260.25,531.98 L259.16,530.06 L258.06,527.95 L256.97,525.69 L255.88,523.34 L254.79,520.94 L253.7,518.55 L252.6,516.21 L251.51,513.98 L250.42,511.92 L249.33,510.07 L248.24,508.49 L247.14,507.24 L246.05,506.37 L244.96,506 L243.87,506.37 L242.78,507.24 L241.68,508.49 L240.59,510.07 L239.5,511.92 L238.41,513.98 L237.32,516.21 L236.22,518.55 L235.13,520.94 L234.04,523.34 L232.95,525.69 L231.86,527.95 L230.76,530.06 L229.67,531.98 L228.58,533.69 L227.49,535.13 L226.4,536.28 L225.3,537.12 L224.21,537.63 L223.12,537.8 L222.03,537.63 L220.94,537.12 L219.84,536.28 L218.75,535.13 L217.66,533.69 L216.57,531.98 L215.48,530.06 L214.38,527.95 L213.29,525.69 L212.2,523.34 L211.11,520.94 L210.02,518.55 L208.92,516.21 L207.83,513.98 L206.74,511.92 L205.65,510.07 L204.56,508.49 L203.46,507.24 L202.37,506.37 L201.28,506 L200.19,506.37 L199.1,507.24 L198,508.49 L196.91,510.07 L195.82,511.92 L194.73,513.98 L193.64,516.21 L192.54,518.55 L191.45,520.94 L190.36,523.34 L189.27,525.69 L188.18,527.95 L187.08,530.06 L185.99,531.98 L184.9,533.69 L183.81,535.13 L182.72,536.28 L181.62,537.12 L180.53,537.63 L179.44,537.8 L178.35,537.63 L177.26,537.12 L176.16,536.28 L175.07,535.13 L173.98,533.69 L172.89,531.98 L171.8,530.06 L170.7,527.95 L169.61,525.69 L168.52,523.34 L167.43,520.94 L166.34,518.55 L165.24,516.21 L164.15,513.98 L163.06,511.92 L161.97,510.07 L160.88,508.49 L159.78,507.24 L158.69,506.37 L157.6,506Z" fill="#000"/>
<g transform="translate(55.74 600.9) scale(1.0000 1)"><text x="0" y="0" font-size="29.5" fill="#231f20" xml:space="preserve">Trial 2</text></g>
<g transform="translate(55.74 572.6) scale(1.0000 1)"><text x="0" y="0" font-size="29.5" fill="#231f20" xml:space="preserve">Trial 1</text><rect x="66.44" y="-2.8" width="6.37" height="3.69" fill="#fff"/><rect x="75.71" y="-2.8" width="6.37" height="3.69" fill="#fff"/></g>
<rect x="97.3" y="610.4" width="3.2" height="3.2" fill="#231f20" stroke="none" stroke-width="0"/>
<rect x="97.3" y="617.45" width="3.2" height="3.2" fill="#231f20" stroke="none" stroke-width="0"/>
<rect x="97.3" y="624.5" width="3.2" height="3.2" fill="#231f20" stroke="none" stroke-width="0"/>
<rect x="148.9" y="551" width="236" height="158.2" fill="none" stroke="#231f20" stroke-width="2.1"/>
<path d="M186.83,560.5v13.2M207.13,560.5v13.2M252.4,560.5v13.2M263.5,560.5v13.2M274.95,560.5v13.2M286.05,560.5v13.2M297.16,560.5v13.2M309.47,560.5v13.2M316.58,560.5v13.2M364.11,560.5v13.2" stroke="#231f20" stroke-width="3.3" fill="none"/>
<path d="M162.2,586.75v13.2M174.35,586.75v13.2M185.62,586.75v13.2M197.24,586.75v13.2M208.69,586.75v13.2M221.53,586.75v13.2M231.41,586.75v13.2M243.21,586.75v13.2M253.27,586.75v13.2M264.2,586.75v13.2M275.65,586.75v13.2M283.45,586.75v13.2M305.65,586.75v13.2M319.71,586.75v13.2M330.29,586.75v13.2M341.21,586.75v13.2M353.7,586.75v13.2M362.2,586.75v13.2M373.65,586.75v13.2" stroke="#231f20" stroke-width="3.3" fill="none"/>
<path d="M165.67,612.9v13.2M176.08,612.9v13.2M184.23,612.9v13.2M196.72,612.9v13.2M207.13,612.9v13.2M229.51,612.9v13.2M242.52,612.9v13.2M251.54,612.9v13.2M262.64,612.9v13.2M273.56,612.9v13.2M295.77,612.9v13.2M308.78,612.9v13.2M316.58,612.9v13.2M352.66,612.9v13.2M363.59,612.9v13.2M374.52,612.9v13.2" stroke="#231f20" stroke-width="3.3" fill="none"/>
<path d="M164.46,639.1v13.2M175.04,639.1v13.2M187.35,639.1v13.2M198.8,639.1v13.2M209.73,639.1v13.2M218.06,639.1v13.2M242.34,639.1v13.2M251.01,639.1v13.2M265.41,639.1v13.2M274.61,639.1v13.2M284.32,639.1v13.2M295.25,639.1v13.2M307.22,639.1v13.2M316.58,639.1v13.2M330.11,639.1v13.2M341.56,639.1v13.2M362.72,639.1v13.2M373.48,639.1v13.2" stroke="#231f20" stroke-width="3.3" fill="none"/>
<path d="M195.51,665.1v13.2M229.16,665.1v13.2M287.09,665.1v13.2M318.66,665.1v13.2M340,665.1v13.2M361.16,665.1v13.2M375.91,665.1v13.2" stroke="#231f20" stroke-width="3.3" fill="none"/>
<path d="M166.02,691.3v13.2M175.91,691.3v13.2M185.45,691.3v13.2M196.55,691.3v13.2M210.25,691.3v13.2M217.71,691.3v13.2M230.2,691.3v13.2M241.13,691.3v13.2M250.67,691.3v13.2M264.2,691.3v13.2M273.74,691.3v13.2M285.01,691.3v13.2M295.42,691.3v13.2M307.39,691.3v13.2M319.18,691.3v13.2M331.67,691.3v13.2M341.39,691.3v13.2M352.32,691.3v13.2M363.76,691.3v13.2M374,691.3v13.2" stroke="#231f20" stroke-width="3.3" fill="none"/>
<rect x="148.9" y="719.4" width="236" height="21.6" fill="none" stroke="#231f20" stroke-width="2.1"/>
<path d="M176.6,723.9v13.2M188.05,723.9v13.2M196.37,723.9v13.2M206.78,723.9v13.2M221.53,723.9v13.2M232.28,723.9v13.2M239.57,723.9v13.2M251.36,723.9v13.2M264.2,723.9v13.2M274.08,723.9v13.2M285.36,723.9v13.2M298.89,723.9v13.2M317.28,723.9v13.2M329.25,723.9v13.2M340,723.9v13.2M352.49,723.9v13.2M360.64,723.9v13.2M372.44,723.9v13.2" stroke="#231f20" stroke-width="3.3" fill="none"/>
<line x1="384.9" y1="626.5" x2="416.2" y2="626.5" stroke="#231f20" stroke-width="1.2"/>
<path d="M427.2,626.5 L413.2,632.3 L416.2,626.5 L413.2,620.7 Z" fill="#231f20"/>
<line x1="384.9" y1="730.3" x2="416.2" y2="730.3" stroke="#231f20" stroke-width="1.2"/>
<path d="M427.2,730.3 L413.2,736.1 L416.2,730.3 L413.2,724.5 Z" fill="#231f20"/>
<g transform="translate(443.83 636.5) scale(1.0000 1)"><text x="0" y="0" font-size="29.69" fill="#231f20" xml:space="preserve">Train</text></g>
<g transform="translate(443.83 737.9) scale(1.0000 1)"><text x="0" y="0" font-size="29.56" fill="#231f20" xml:space="preserve">Test</text></g>
<g transform="translate(632.03 453.4) scale(1.0000 1)"><text x="0" y="0" font-size="25.31" fill="#231f20" xml:space="preserve">Train</text></g>
<g transform="translate(512.58 510.7) scale(1.0000 1)"><text x="0" y="0" font-size="25.65" fill="#231f20" xml:space="preserve">Neuron 2</text></g>
<g transform="translate(512.58 488) scale(1.0000 1)"><text x="0" y="0" font-size="25.65" fill="#231f20" xml:space="preserve">Neuron 1</text><rect x="92.04" y="-2.44" width="5.54" height="3.21" fill="#fff"/><rect x="100.09" y="-2.44" width="5.54" height="3.21" fill="#fff"/></g>
<rect x="560" y="518.7" width="2.8" height="2.8" fill="#231f20" stroke="none" stroke-width="0"/>
<rect x="560" y="524.65" width="2.8" height="2.8" fill="#231f20" stroke="none" stroke-width="0"/>
<rect x="560" y="530.6" width="2.8" height="2.8" fill="#231f20" stroke="none" stroke-width="0"/>
<g transform="translate(623 462.7) scale(0.8)"><rect x="0" y="0" width="236" height="158.2" fill="#fff" stroke="#231f20" stroke-width="2"/><path d="M37.93,9.6v13M58.23,9.6v13M103.5,9.6v13M114.6,9.6v13M126.05,9.6v13M137.15,9.6v13M148.26,9.6v13M160.57,9.6v13M167.68,9.6v13M215.21,9.6v13M13.3,35.85v13M25.45,35.85v13M36.72,35.85v13M48.34,35.85v13M59.79,35.85v13M72.63,35.85v13M82.51,35.85v13M94.31,35.85v13M104.37,35.85v13M115.3,35.85v13M126.75,35.85v13M134.55,35.85v13M156.75,35.85v13M170.81,35.85v13M181.39,35.85v13M192.31,35.85v13M204.8,35.85v13M213.3,35.85v13M224.75,35.85v13M16.77,62v13M27.18,62v13M35.33,62v13M47.82,62v13M58.23,62v13M80.61,62v13M93.62,62v13M102.64,62v13M113.74,62v13M124.66,62v13M146.87,62v13M159.88,62v13M167.68,62v13M203.76,62v13M214.69,62v13M225.62,62v13M15.56,88.2v13M26.14,88.2v13M38.45,88.2v13M49.9,88.2v13M60.83,88.2v13M69.16,88.2v13M93.44,88.2v13M102.11,88.2v13M116.51,88.2v13M125.71,88.2v13M135.42,88.2v13M146.35,88.2v13M158.32,88.2v13M167.68,88.2v13M181.21,88.2v13M192.66,88.2v13M213.82,88.2v13M224.58,88.2v13M46.61,114.2v13M80.26,114.2v13M138.19,114.2v13M169.76,114.2v13M191.1,114.2v13M212.26,114.2v13M227.01,114.2v13M17.12,140.4v13M27.01,140.4v13M36.55,140.4v13M47.65,140.4v13M61.35,140.4v13M68.81,140.4v13M81.3,140.4v13M92.23,140.4v13M101.77,140.4v13M115.3,140.4v13M124.84,140.4v13M136.11,140.4v13M146.52,140.4v13M158.49,140.4v13M170.28,140.4v13M182.77,140.4v13M192.49,140.4v13M203.42,140.4v13M214.86,140.4v13M225.1,140.4v13" stroke="#231f20" stroke-width="2.9" fill="none"/></g>
<g transform="translate(639.3 483) scale(0.8)"><rect x="0" y="0" width="236" height="158.2" fill="#fff" stroke="#231f20" stroke-width="2"/><path d="M37.93,9.6v13M58.23,9.6v13M103.5,9.6v13M114.6,9.6v13M126.05,9.6v13M137.15,9.6v13M148.26,9.6v13M160.57,9.6v13M167.68,9.6v13M215.21,9.6v13M13.3,35.85v13M25.45,35.85v13M36.72,35.85v13M48.34,35.85v13M59.79,35.85v13M72.63,35.85v13M82.51,35.85v13M94.31,35.85v13M104.37,35.85v13M115.3,35.85v13M126.75,35.85v13M134.55,35.85v13M156.75,35.85v13M170.81,35.85v13M181.39,35.85v13M192.31,35.85v13M204.8,35.85v13M213.3,35.85v13M224.75,35.85v13M16.77,62v13M27.18,62v13M35.33,62v13M47.82,62v13M58.23,62v13M80.61,62v13M93.62,62v13M102.64,62v13M113.74,62v13M124.66,62v13M146.87,62v13M159.88,62v13M167.68,62v13M203.76,62v13M214.69,62v13M225.62,62v13M15.56,88.2v13M26.14,88.2v13M38.45,88.2v13M49.9,88.2v13M60.83,88.2v13M69.16,88.2v13M93.44,88.2v13M102.11,88.2v13M116.51,88.2v13M125.71,88.2v13M135.42,88.2v13M146.35,88.2v13M158.32,88.2v13M167.68,88.2v13M181.21,88.2v13M192.66,88.2v13M213.82,88.2v13M224.58,88.2v13M46.61,114.2v13M80.26,114.2v13M138.19,114.2v13M169.76,114.2v13M191.1,114.2v13M212.26,114.2v13M227.01,114.2v13M17.12,140.4v13M27.01,140.4v13M36.55,140.4v13M47.65,140.4v13M61.35,140.4v13M68.81,140.4v13M81.3,140.4v13M92.23,140.4v13M101.77,140.4v13M115.3,140.4v13M124.84,140.4v13M136.11,140.4v13M146.52,140.4v13M158.49,140.4v13M170.28,140.4v13M182.77,140.4v13M192.49,140.4v13M203.42,140.4v13M214.86,140.4v13M225.1,140.4v13" stroke="#231f20" stroke-width="2.9" fill="none"/></g>
<g transform="translate(659.3 504.3) scale(0.8)"><rect x="0" y="0" width="236" height="158.2" fill="#fff" stroke="#231f20" stroke-width="2"/><path d="M37.93,9.6v13M58.23,9.6v13M103.5,9.6v13M114.6,9.6v13M126.05,9.6v13M137.15,9.6v13M148.26,9.6v13M160.57,9.6v13M167.68,9.6v13M215.21,9.6v13M13.3,35.85v13M25.45,35.85v13M36.72,35.85v13M48.34,35.85v13M59.79,35.85v13M72.63,35.85v13M82.51,35.85v13M94.31,35.85v13M104.37,35.85v13M115.3,35.85v13M126.75,35.85v13M134.55,35.85v13M156.75,35.85v13M170.81,35.85v13M181.39,35.85v13M192.31,35.85v13M204.8,35.85v13M213.3,35.85v13M224.75,35.85v13M16.77,62v13M27.18,62v13M35.33,62v13M47.82,62v13M58.23,62v13M80.61,62v13M93.62,62v13M102.64,62v13M113.74,62v13M124.66,62v13M146.87,62v13M159.88,62v13M167.68,62v13M203.76,62v13M214.69,62v13M225.62,62v13M15.56,88.2v13M26.14,88.2v13M38.45,88.2v13M49.9,88.2v13M60.83,88.2v13M69.16,88.2v13M93.44,88.2v13M102.11,88.2v13M116.51,88.2v13M125.71,88.2v13M135.42,88.2v13M146.35,88.2v13M158.32,88.2v13M167.68,88.2v13M181.21,88.2v13M192.66,88.2v13M213.82,88.2v13M224.58,88.2v13M46.61,114.2v13M80.26,114.2v13M138.19,114.2v13M169.76,114.2v13M191.1,114.2v13M212.26,114.2v13M227.01,114.2v13M17.12,140.4v13M27.01,140.4v13M36.55,140.4v13M47.65,140.4v13M61.35,140.4v13M68.81,140.4v13M81.3,140.4v13M92.23,140.4v13M101.77,140.4v13M115.3,140.4v13M124.84,140.4v13M136.11,140.4v13M146.52,140.4v13M158.49,140.4v13M170.28,140.4v13M182.77,140.4v13M192.49,140.4v13M203.42,140.4v13M214.86,140.4v13M225.1,140.4v13" stroke="#231f20" stroke-width="2.9" fill="none"/></g>
<line x1="848.1" y1="564.1" x2="869.9" y2="564.1" stroke="#231f20" stroke-width="1.2"/>
<path d="M880.3,564.1 L867.3,569.4 L869.9,564.1 L867.3,558.8 Z" fill="#231f20"/>
<g transform="translate(667.95 679.6) scale(1.0000 1)"><text x="0" y="0" font-size="24.9" font-weight="bold" fill="#231f20" xml:space="preserve">Test</text></g>
<g transform="translate(548.9 727.8) scale(1.0000 1)"><text x="0" y="0" font-size="25.43" fill="#231f20" xml:space="preserve">Neuron 2</text></g>
<g transform="translate(548.9 704.8) scale(1.0000 1)"><text x="0" y="0" font-size="25.43" fill="#231f20" xml:space="preserve">Neuron 1</text><rect x="91.23" y="-2.42" width="5.49" height="3.18" fill="#fff"/><rect x="99.21" y="-2.42" width="5.49" height="3.18" fill="#fff"/></g>
<rect x="595.2" y="735" width="2.8" height="2.8" fill="#231f20" stroke="none" stroke-width="0"/>
<rect x="595.2" y="740.45" width="2.8" height="2.8" fill="#231f20" stroke="none" stroke-width="0"/>
<rect x="595.2" y="745.9" width="2.8" height="2.8" fill="#231f20" stroke="none" stroke-width="0"/>
<g transform="translate(657.1 687.5) scale(0.8)"><rect x="0" y="0" width="236" height="158.2" fill="#fff" stroke="#231f20" stroke-width="2"/><path d="M37.93,9.6v13M58.23,9.6v13M103.5,9.6v13M114.6,9.6v13M126.05,9.6v13M137.15,9.6v13M148.26,9.6v13M160.57,9.6v13M167.68,9.6v13M215.21,9.6v13M13.3,35.85v13M25.45,35.85v13M36.72,35.85v13M48.34,35.85v13M59.79,35.85v13M72.63,35.85v13M82.51,35.85v13M94.31,35.85v13M104.37,35.85v13M115.3,35.85v13M126.75,35.85v13M134.55,35.85v13M156.75,35.85v13M170.81,35.85v13M181.39,35.85v13M192.31,35.85v13M204.8,35.85v13M213.3,35.85v13M224.75,35.85v13M16.77,62v13M27.18,62v13M35.33,62v13M47.82,62v13M58.23,62v13M80.61,62v13M93.62,62v13M102.64,62v13M113.74,62v13M124.66,62v13M146.87,62v13M159.88,62v13M167.68,62v13M203.76,62v13M214.69,62v13M225.62,62v13M15.56,88.2v13M26.14,88.2v13M38.45,88.2v13M49.9,88.2v13M60.83,88.2v13M69.16,88.2v13M93.44,88.2v13M102.11,88.2v13M116.51,88.2v13M125.71,88.2v13M135.42,88.2v13M146.35,88.2v13M158.32,88.2v13M167.68,88.2v13M181.21,88.2v13M192.66,88.2v13M213.82,88.2v13M224.58,88.2v13M46.61,114.2v13M80.26,114.2v13M138.19,114.2v13M169.76,114.2v13M191.1,114.2v13M212.26,114.2v13M227.01,114.2v13M17.12,140.4v13M27.01,140.4v13M36.55,140.4v13M47.65,140.4v13M61.35,140.4v13M68.81,140.4v13M81.3,140.4v13M92.23,140.4v13M101.77,140.4v13M115.3,140.4v13M124.84,140.4v13M136.11,140.4v13M146.52,140.4v13M158.49,140.4v13M170.28,140.4v13M182.77,140.4v13M192.49,140.4v13M203.42,140.4v13M214.86,140.4v13M225.1,140.4v13" stroke="#231f20" stroke-width="2.9" fill="none"/></g>
<line x1="845.9" y1="748" x2="869.6" y2="748" stroke="#231f20" stroke-width="1.2"/>
<path d="M880,748 L867,753.3 L869.6,748 L867,742.7 Z" fill="#231f20"/>
<rect x="1044.2" y="447.2" width="167.8" height="56.6" fill="#e6e7e8" stroke="none" stroke-width="0"/>
<g transform="translate(1100.22 483.2) scale(1.0000 1)"><text x="0" y="0" font-size="27.8" font-weight="bold" fill="#231f20" xml:space="preserve">Test</text></g>
<line x1="988" y1="759.5" x2="988" y2="491.4" stroke="#231f20" stroke-width="2"/>
<path d="M988,479.4 L994.2,493.9 L988,491.9 L981.8,493.9 Z" fill="#231f20"/>
<line x1="987.4" y1="759.5" x2="1262.9" y2="759.5" stroke="#231f20" stroke-width="2"/>
<path d="M1274.9,759.5 L1260.4,765.7 L1262.4,759.5 L1260.4,753.3 Z" fill="#231f20"/>
<line x1="988" y1="759.5" x2="965.2" y2="759.5" stroke="#231f20" stroke-width="1.3"/>
<path d="M954.2,759.5 L968.2,753.5 L966,759.5 L968.2,765.5 Z" fill="#231f20"/>
<line x1="988" y1="759.5" x2="988" y2="782.8" stroke="#231f20" stroke-width="1.3"/>
<path d="M988,793.8 L982,779.8 L988,782 L994,779.8 Z" fill="#231f20"/>
<line x1="988" y1="759.5" x2="972.1" y2="775.74" stroke="#231f20" stroke-width="1.3"/>
<path d="M964.4,783.6 L969.91,769.4 L972.66,775.17 L978.48,777.8 Z" fill="#231f20"/>
<line x1="992.8" y1="499.9" x2="1246.4" y2="753.4" stroke="#a7a9ac" stroke-width="3.3"/>
<line x1="995" y1="497.7" x2="1248.6" y2="751.2" stroke="#000" stroke-width="3.2"/>
<circle cx="1125.3" cy="522.5" r="4.9" fill="none" stroke="#231f20" stroke-width="1.7"/>
<circle cx="1024.4" cy="609.2" r="4.9" fill="none" stroke="#231f20" stroke-width="1.7"/>
<circle cx="1216.1" cy="600.6" r="4.9" fill="none" stroke="#939598" stroke-width="1.7"/>
<circle cx="1133.7" cy="669.5" r="4.9" fill="none" stroke="#939598" stroke-width="1.7"/>
<g transform="translate(1107.81 551.7) scale(1.0000 1)"><text x="0" y="0" font-size="26.49" fill="#231f20" xml:space="preserve">Hit</text></g>
<g transform="translate(998.51 639.6) scale(1.0000 1)"><text x="0" y="0" font-size="25.39" fill="#231f20" xml:space="preserve">Miss</text></g>
<g transform="translate(1201.4 632.8) scale(1.0000 1)"><text x="0" y="0" font-size="24.23" fill="#939598" xml:space="preserve">FA</text></g>
<g transform="translate(1115.91 699.5) scale(1.0000 1)"><text x="0" y="0" font-size="25.83" fill="#939598" xml:space="preserve">CR</text></g>
<g transform="translate(1195.85 531.9) scale(1.0000 1)"><text x="0" y="0" font-size="29.74" fill="#231f20" xml:space="preserve">Warn</text></g>
<path d="M1195.3,549.4 L1195.66,549.28 L1196.01,548.98 L1196.37,548.56 L1196.73,548.03 L1197.09,547.41 L1197.44,546.71 L1197.8,545.96 L1198.16,545.18 L1198.51,544.37 L1198.87,543.57 L1199.23,542.77 L1199.58,542.02 L1199.94,541.3 L1200.3,540.66 L1200.65,540.08 L1201.01,539.6 L1201.37,539.21 L1201.73,538.93 L1202.08,538.76 L1202.44,538.7 L1202.8,538.76 L1203.15,538.93 L1203.51,539.21 L1203.87,539.6 L1204.22,540.08 L1204.58,540.66 L1204.94,541.3 L1205.3,542.02 L1205.65,542.77 L1206.01,543.57 L1206.37,544.37 L1206.72,545.18 L1207.08,545.96 L1207.44,546.71 L1207.79,547.41 L1208.15,548.03 L1208.51,548.56 L1208.87,548.98 L1209.22,549.28 L1209.58,549.4 L1209.94,549.28 L1210.29,548.98 L1210.65,548.56 L1211.01,548.03 L1211.37,547.41 L1211.72,546.71 L1212.08,545.96 L1212.44,545.18 L1212.79,544.37 L1213.15,543.57 L1213.51,542.77 L1213.86,542.02 L1214.22,541.3 L1214.58,540.66 L1214.93,540.08 L1215.29,539.6 L1215.65,539.21 L1216.01,538.93 L1216.36,538.76 L1216.72,538.7 L1217.08,538.76 L1217.43,538.93 L1217.79,539.21 L1218.15,539.6 L1218.5,540.08 L1218.86,540.66 L1219.22,541.3 L1219.58,542.02 L1219.93,542.77 L1220.29,543.57 L1220.65,544.37 L1221,545.18 L1221.36,545.96 L1221.72,546.71 L1222.08,547.41 L1222.43,548.03 L1222.79,548.56 L1223.15,548.98 L1223.5,549.28 L1223.86,549.4 L1224.22,549.28 L1224.57,548.98 L1224.93,548.56 L1225.29,548.03 L1225.64,547.41 L1226,546.71 L1226.36,545.96 L1226.72,545.18 L1227.07,544.37 L1227.43,543.57 L1227.79,542.77 L1228.14,542.02 L1228.5,541.3 L1228.86,540.66 L1229.21,540.08 L1229.57,539.6 L1229.93,539.21 L1230.29,538.93 L1230.64,538.76 L1231,538.7 L1231.36,538.76 L1231.71,538.93 L1232.07,539.21 L1232.43,539.6 L1232.78,540.08 L1233.14,540.66 L1233.5,541.3 L1233.86,542.02 L1234.21,542.77 L1234.57,543.57 L1234.93,544.37 L1235.28,545.18 L1235.64,545.96 L1236,546.71 L1236.36,547.41 L1236.71,548.03 L1237.07,548.56 L1237.43,548.98 L1237.78,549.28 L1238.14,549.4 L1238.5,549.28 L1238.85,548.98 L1239.21,548.56 L1239.57,548.03 L1239.92,547.41 L1240.28,546.71 L1240.64,545.96 L1241,545.18 L1241.35,544.37 L1241.71,543.57 L1242.07,542.77 L1242.42,542.02 L1242.78,541.3 L1243.14,540.66 L1243.49,540.08 L1243.85,539.6 L1244.21,539.21 L1244.57,538.93 L1244.92,538.76 L1245.28,538.7 L1245.64,538.76 L1245.99,538.93 L1246.35,539.21 L1246.71,539.6 L1247.07,540.08 L1247.42,540.66 L1247.78,541.3 L1248.14,542.02 L1248.49,542.77 L1248.85,543.57 L1249.21,544.37 L1249.56,545.18 L1249.92,545.96 L1250.28,546.71 L1250.63,547.41 L1250.99,548.03 L1251.35,548.56 L1251.71,548.98 L1252.06,549.28 L1252.42,549.4 L1252.78,549.28 L1253.13,548.98 L1253.49,548.56 L1253.85,548.03 L1254.2,547.41 L1254.56,546.71 L1254.92,545.96 L1255.28,545.18 L1255.63,544.37 L1255.99,543.57 L1256.35,542.77 L1256.7,542.02 L1257.06,541.3 L1257.42,540.66 L1257.77,540.08 L1258.13,539.6 L1258.49,539.21 L1258.85,538.93 L1259.2,538.76 L1259.56,538.7 L1259.92,538.76 L1260.27,538.93 L1260.63,539.21 L1260.99,539.6 L1261.35,540.08 L1261.7,540.66 L1262.06,541.3 L1262.42,542.02 L1262.77,542.77 L1263.13,543.57 L1263.49,544.37 L1263.84,545.18 L1264.2,545.96 L1264.56,546.71 L1264.91,547.41 L1265.27,548.03 L1265.63,548.56 L1265.99,548.98 L1266.34,549.28 L1266.7,549.4 L1266.7,549.4 L1266.34,549.52 L1265.99,549.82 L1265.63,550.24 L1265.27,550.77 L1264.91,551.39 L1264.56,552.09 L1264.2,552.84 L1263.84,553.62 L1263.49,554.43 L1263.13,555.23 L1262.77,556.03 L1262.42,556.78 L1262.06,557.5 L1261.7,558.14 L1261.35,558.72 L1260.99,559.2 L1260.63,559.59 L1260.27,559.87 L1259.92,560.04 L1259.56,560.1 L1259.2,560.04 L1258.85,559.87 L1258.49,559.59 L1258.13,559.2 L1257.77,558.72 L1257.42,558.14 L1257.06,557.5 L1256.7,556.78 L1256.35,556.03 L1255.99,555.23 L1255.63,554.43 L1255.28,553.62 L1254.92,552.84 L1254.56,552.09 L1254.2,551.39 L1253.85,550.77 L1253.49,550.24 L1253.13,549.82 L1252.78,549.52 L1252.42,549.4 L1252.06,549.52 L1251.71,549.82 L1251.35,550.24 L1250.99,550.77 L1250.63,551.39 L1250.28,552.09 L1249.92,552.84 L1249.56,553.62 L1249.21,554.43 L1248.85,555.23 L1248.49,556.03 L1248.14,556.78 L1247.78,557.5 L1247.42,558.14 L1247.07,558.72 L1246.71,559.2 L1246.35,559.59 L1245.99,559.87 L1245.64,560.04 L1245.28,560.1 L1244.92,560.04 L1244.57,559.87 L1244.21,559.59 L1243.85,559.2 L1243.49,558.72 L1243.14,558.14 L1242.78,557.5 L1242.42,556.78 L1242.07,556.03 L1241.71,555.23 L1241.35,554.43 L1241,553.62 L1240.64,552.84 L1240.28,552.09 L1239.92,551.39 L1239.57,550.77 L1239.21,550.24 L1238.85,549.82 L1238.5,549.52 L1238.14,549.4 L1237.78,549.52 L1237.43,549.82 L1237.07,550.24 L1236.71,550.77 L1236.36,551.39 L1236,552.09 L1235.64,552.84 L1235.28,553.62 L1234.93,554.43 L1234.57,555.23 L1234.21,556.03 L1233.86,556.78 L1233.5,557.5 L1233.14,558.14 L1232.78,558.72 L1232.43,559.2 L1232.07,559.59 L1231.71,559.87 L1231.36,560.04 L1231,560.1 L1230.64,560.04 L1230.29,559.87 L1229.93,559.59 L1229.57,559.2 L1229.21,558.72 L1228.86,558.14 L1228.5,557.5 L1228.14,556.78 L1227.79,556.03 L1227.43,555.23 L1227.07,554.43 L1226.72,553.62 L1226.36,552.84 L1226,552.09 L1225.64,551.39 L1225.29,550.77 L1224.93,550.24 L1224.57,549.82 L1224.22,549.52 L1223.86,549.4 L1223.5,549.52 L1223.15,549.82 L1222.79,550.24 L1222.43,550.77 L1222.08,551.39 L1221.72,552.09 L1221.36,552.84 L1221,553.62 L1220.65,554.43 L1220.29,555.23 L1219.93,556.03 L1219.58,556.78 L1219.22,557.5 L1218.86,558.14 L1218.5,558.72 L1218.15,559.2 L1217.79,559.59 L1217.43,559.87 L1217.08,560.04 L1216.72,560.1 L1216.36,560.04 L1216.01,559.87 L1215.65,559.59 L1215.29,559.2 L1214.93,558.72 L1214.58,558.14 L1214.22,557.5 L1213.86,556.78 L1213.51,556.03 L1213.15,555.23 L1212.79,554.43 L1212.44,553.62 L1212.08,552.84 L1211.72,552.09 L1211.37,551.39 L1211.01,550.77 L1210.65,550.24 L1210.29,549.82 L1209.94,549.52 L1209.58,549.4 L1209.22,549.52 L1208.87,549.82 L1208.51,550.24 L1208.15,550.77 L1207.79,551.39 L1207.44,552.09 L1207.08,552.84 L1206.72,553.62 L1206.37,554.43 L1206.01,555.23 L1205.65,556.03 L1205.3,556.78 L1204.94,557.5 L1204.58,558.14 L1204.22,558.72 L1203.87,559.2 L1203.51,559.59 L1203.15,559.87 L1202.8,560.04 L1202.44,560.1 L1202.08,560.04 L1201.73,559.87 L1201.37,559.59 L1201.01,559.2 L1200.65,558.72 L1200.3,558.14 L1199.94,557.5 L1199.58,556.78 L1199.23,556.03 L1198.87,555.23 L1198.51,554.43 L1198.16,553.62 L1197.8,552.84 L1197.44,552.09 L1197.09,551.39 L1196.73,550.77 L1196.37,550.24 L1196.01,549.82 L1195.66,549.52 L1195.3,549.4Z" fill="#000"/>
<g transform="translate(999.26 723.2) scale(1.0000 1)"><text x="0" y="0" font-size="29.89" fill="#231f20" xml:space="preserve">Safe</text></g>
<path d="M996,740.9 L996.33,740.86 L996.65,740.72 L996.98,740.5 L997.3,740.2 L997.62,739.82 L997.95,739.36 L998.27,738.85 L998.6,738.27 L998.92,737.66 L999.25,737.01 L999.58,736.34 L999.9,735.65 L1000.23,734.96 L1000.55,734.29 L1000.88,733.64 L1001.2,733.02 L1001.52,732.45 L1001.85,731.94 L1002.17,731.48 L1002.5,731.1 L1002.83,730.8 L1003.15,730.58 L1003.48,730.44 L1003.8,730.4 L1056.7,730.4 L1057.03,730.44 L1057.35,730.58 L1057.67,730.8 L1058,731.1 L1058.33,731.48 L1058.65,731.94 L1058.98,732.45 L1059.3,733.02 L1059.62,733.64 L1059.95,734.29 L1060.28,734.96 L1060.6,735.65 L1060.92,736.34 L1061.25,737.01 L1061.58,737.66 L1061.9,738.27 L1062.23,738.85 L1062.55,739.36 L1062.88,739.82 L1063.2,740.2 L1063.53,740.5 L1063.85,740.72 L1064.17,740.86 L1064.5,740.9 L1064.5,740.9 L1064.17,740.94 L1063.85,741.08 L1063.53,741.3 L1063.2,741.6 L1062.88,741.98 L1062.55,742.44 L1062.23,742.95 L1061.9,743.52 L1061.58,744.14 L1061.25,744.79 L1060.92,745.46 L1060.6,746.15 L1060.28,746.84 L1059.95,747.51 L1059.62,748.16 L1059.3,748.77 L1058.98,749.35 L1058.65,749.86 L1058.33,750.32 L1058,750.7 L1057.67,751 L1057.35,751.22 L1057.03,751.36 L1056.7,751.4 L1003.8,751.4 L1003.48,751.36 L1003.15,751.22 L1002.83,751 L1002.5,750.7 L1002.17,750.32 L1001.85,749.86 L1001.52,749.35 L1001.2,748.77 L1000.88,748.16 L1000.55,747.51 L1000.23,746.84 L999.9,746.15 L999.58,745.46 L999.25,744.79 L998.92,744.14 L998.6,743.52 L998.27,742.95 L997.95,742.44 L997.62,741.98 L997.3,741.6 L996.98,741.3 L996.65,741.08 L996.33,740.94 L996,740.9Z" fill="#d1d3d4"/>
<g transform="translate(958.2 684.67) rotate(-90) scale(1.0000 1)"><text x="0" y="0" font-size="29.91" fill="#231f20" xml:space="preserve">Neuron</text></g>
<g transform="translate(967.5 586.26) rotate(-90) scale(1.0000 1)"><text x="0" y="0" font-size="17" font-style="italic" fill="#231f20" xml:space="preserve">i+j</text></g>
<g transform="translate(1072.5 791.2) scale(1.0000 1)"><text x="0" y="0" font-size="30.33" fill="#231f20" xml:space="preserve">Neuron</text></g>
<g transform="translate(1171 801) scale(1.0000 1)"><text x="0" y="0" font-size="18" fill="#231f20" xml:space="preserve">i</text></g>
<circle cx="1311.7" cy="496" r="4.9" fill="none" stroke="#231f20" stroke-width="1.7"/>
<circle cx="1311.7" cy="523.3" r="4.9" fill="none" stroke="#939598" stroke-width="1.7"/>
<g transform="translate(1324.16 506.5) scale(1.0000 1)"><text x="0" y="0" font-size="29.59" fill="#231f20" xml:space="preserve">test trial</text></g>
<g transform="translate(1324.16 532.1) scale(1.0000 1)"><text x="0" y="0" font-size="29.59" fill="#939598" xml:space="preserve">test trial</text></g>
<line x1="1306" y1="629.2" x2="1366" y2="629.2" stroke="#231f20" stroke-width="4.7"/>
<path d="M1387.8,629.2 L1358.8,641.4 L1363.8,629.2 L1358.8,617 Z" fill="#231f20"/>
<rect x="1407.1" y="586.4" width="92" height="92.2" fill="#e6e7e8" stroke="none" stroke-width="0"/>
<g transform="translate(1437.56 644.57) scale(1.0319 1)"><text x="0" y="0" font-size="42.86" font-style="italic" fill="#231f20" xml:space="preserve">d’</text></g>
<g transform="translate(-1.12 894.3) scale(1.0260 1)"><text x="0" y="0" font-size="49.8" font-weight="bold" fill="#231f20" xml:space="preserve">b</text></g>
<g transform="translate(135.77 903.2) scale(1.0000 1)"><text x="0" y="0" font-size="33.94" fill="#231f20" xml:space="preserve">Single session</text></g>
<g transform="translate(171.75 943.3) scale(1.0000 1)"><text x="0" y="0" font-size="34.12" fill="#231f20" xml:space="preserve">examples</text></g>
<g transform="translate(117.62 987.9) scale(1.0000 1)"><text x="0" y="0" font-size="25.58" fill="#12b3b1" xml:space="preserve">Ctrl (n=16 units)</text><rect x="85.35" y="-2.43" width="5.53" height="3.2" fill="#fff"/><rect x="93.38" y="-2.43" width="5.53" height="3.2" fill="#fff"/></g>
<rect x="156.1" y="1008.6" width="6.2" height="183.4" fill="#b2e3e1" stroke="none" stroke-width="0"/>
<line x1="158.9" y1="1008.6" x2="158.9" y2="1192" stroke="#12b3b1" stroke-width="1.5" stroke-dasharray="3.5 2.8"/>
<line x1="120.2" y1="993.5" x2="120.2" y2="1193" stroke="#231f20" stroke-width="2"/>
<line x1="119.2" y1="1192" x2="375.5" y2="1192" stroke="#231f20" stroke-width="2"/>
<line x1="168.5" y1="1192" x2="168.5" y2="1187.8" stroke="#231f20" stroke-width="1.5"/>
<line x1="207.8" y1="1192" x2="207.8" y2="1187.8" stroke="#231f20" stroke-width="1.5"/>
<line x1="247.9" y1="1192" x2="247.9" y2="1187.8" stroke="#231f20" stroke-width="1.5"/>
<line x1="290.5" y1="1192" x2="290.5" y2="1187.8" stroke="#231f20" stroke-width="1.5"/>
<line x1="332.3" y1="1192" x2="332.3" y2="1187.8" stroke="#231f20" stroke-width="1.5"/>
<line x1="374.7" y1="1192" x2="374.7" y2="1187.8" stroke="#231f20" stroke-width="1.5"/>
<line x1="120.2" y1="1023.3" x2="123.8" y2="1023.3" stroke="#231f20" stroke-width="1.5"/>
<line x1="120.2" y1="1065.9" x2="123.8" y2="1065.9" stroke="#231f20" stroke-width="1.5"/>
<line x1="120.2" y1="1107.5" x2="123.8" y2="1107.5" stroke="#231f20" stroke-width="1.5"/>
<line x1="120.2" y1="1149.2" x2="123.8" y2="1149.2" stroke="#231f20" stroke-width="1.5"/>
<line x1="120.2" y1="1107.5" x2="374.7" y2="1107.5" stroke="#231f20" stroke-width="1.7" stroke-dasharray="10.5 6.2"/>
<path d="M119.3,1126.5 L120.31,1126.22 L121.58,1125.88 L123.07,1125.48 L124.74,1125.04 L126.56,1124.55 L128.49,1124.03 L130.48,1123.48 L132.49,1122.91 L134.49,1122.32 L136.43,1121.71 L138.28,1121.11 L140,1120.5 L141.65,1119.87 L143.32,1119.2 L145,1118.5 L146.68,1117.77 L148.34,1117.02 L149.97,1116.26 L151.57,1115.51 L153.12,1114.76 L154.61,1114.02 L156.03,1113.31 L157.36,1112.64 L158.6,1112 L159.7,1111.46 L160.65,1111.04 L161.47,1110.7 L162.21,1110.41 L162.88,1110.14 L163.52,1109.86 L164.17,1109.51 L164.85,1109.09 L165.59,1108.53 L166.42,1107.83 L167.38,1106.93 L168.5,1105.8 L169.76,1104.44 L171.12,1102.88 L172.58,1101.15 L174.11,1099.27 L175.71,1097.26 L177.35,1095.16 L179.03,1092.99 L180.73,1090.78 L182.45,1088.55 L184.15,1086.32 L185.84,1084.13 L187.5,1082 L189.16,1079.88 L190.85,1077.71 L192.56,1075.51 L194.29,1073.27 L196.03,1071.02 L197.78,1068.76 L199.51,1066.5 L201.23,1064.26 L202.93,1062.04 L204.59,1059.84 L206.22,1057.7 L207.8,1055.6 L209.33,1053.53 L210.83,1051.47 L212.29,1049.42 L213.73,1047.39 L215.14,1045.37 L216.54,1043.39 L217.92,1041.44 L219.29,1039.53 L220.66,1037.66 L222.03,1035.85 L223.41,1034.09 L224.8,1032.4 L226.19,1030.75 L227.55,1029.13 L228.91,1027.54 L230.26,1025.99 L231.6,1024.49 L232.94,1023.04 L234.29,1021.65 L235.66,1020.32 L237.03,1019.06 L238.43,1017.89 L239.85,1016.8 L241.3,1015.8 L242.76,1014.9 L244.2,1014.11 L245.63,1013.4 L247.07,1012.78 L248.53,1012.23 L250.01,1011.74 L251.52,1011.3 L253.09,1010.91 L254.7,1010.55 L256.39,1010.22 L258.15,1009.91 L260,1009.6 L261.89,1009.32 L263.77,1009.1 L265.67,1008.93 L267.6,1008.79 L269.59,1008.69 L271.66,1008.62 L273.82,1008.58 L276.1,1008.54 L278.52,1008.51 L281.09,1008.48 L283.85,1008.45 L286.8,1008.4 L290.14,1008.35 L293.96,1008.31 L298.15,1008.27 L302.59,1008.25 L307.17,1008.24 L311.77,1008.22 L316.28,1008.22 L320.59,1008.21 L324.56,1008.21 L328.1,1008.21 L331.09,1008.21 L333.4,1008.2" fill="none" stroke="#12b3b1" stroke-width="3.8" stroke-linejoin="round"/>
<circle cx="120.3" cy="1127.1" r="7.4" fill="none" stroke="#12b3b1" stroke-width="1.8"/>
<circle cx="168.5" cy="1104.2" r="7.4" fill="none" stroke="#12b3b1" stroke-width="1.8"/>
<circle cx="207.8" cy="1053.1" r="7.4" fill="none" stroke="#12b3b1" stroke-width="1.8"/>
<circle cx="247.9" cy="1009.2" r="7.4" fill="none" stroke="#12b3b1" stroke-width="1.8"/>
<circle cx="290.5" cy="1009.2" r="7.4" fill="none" stroke="#12b3b1" stroke-width="1.8"/>
<circle cx="332.3" cy="1009.2" r="7.4" fill="none" stroke="#12b3b1" stroke-width="1.8"/>
<g transform="translate(47.58 1079.38) scale(1.0325 1)"><text x="0" y="0" font-size="42.45" font-style="italic" fill="#231f20" xml:space="preserve">d’</text></g>
<g transform="translate(93.61 1031.6) scale(1.0000 1)"><text x="0" y="0" font-size="30.6" fill="#231f20" xml:space="preserve">2</text></g>
<g transform="translate(94.51 1115.7) scale(1.0000 1)"><text x="0" y="0" font-size="30.6" fill="#231f20" xml:space="preserve">1</text><rect x="0.92" y="-2.91" width="6.61" height="3.83" fill="#fff"/><rect x="10.53" y="-2.91" width="6.61" height="3.83" fill="#fff"/></g>
<g transform="translate(93.77 1194.39) scale(1.0000 1)"><text x="0" y="0" font-size="30.6" fill="#231f20" xml:space="preserve">0</text></g>
<g transform="translate(117.3 1235.8) scale(1.0000 1)"><text x="0" y="0" font-size="25.51" fill="#ef6668" xml:space="preserve">HL (n=27 units)</text></g>
<rect x="233.5" y="1262" width="5.8" height="182.8" fill="#f9d1d2" stroke="none" stroke-width="0"/>
<line x1="236.4" y1="1262" x2="236.4" y2="1444.8" stroke="#ef6668" stroke-width="1.5" stroke-dasharray="3.5 2.8"/>
<line x1="119.8" y1="1247" x2="119.8" y2="1445.8" stroke="#231f20" stroke-width="2"/>
<line x1="118.8" y1="1444.8" x2="368.2" y2="1444.8" stroke="#231f20" stroke-width="2"/>
<line x1="158.6" y1="1444.8" x2="158.6" y2="1440.6" stroke="#231f20" stroke-width="1.5"/>
<line x1="198.7" y1="1444.8" x2="198.7" y2="1440.6" stroke="#231f20" stroke-width="1.5"/>
<line x1="238.9" y1="1444.8" x2="238.9" y2="1440.6" stroke="#231f20" stroke-width="1.5"/>
<line x1="282.2" y1="1444.8" x2="282.2" y2="1440.6" stroke="#231f20" stroke-width="1.5"/>
<line x1="325" y1="1444.8" x2="325" y2="1440.6" stroke="#231f20" stroke-width="1.5"/>
<line x1="367.4" y1="1444.8" x2="367.4" y2="1440.6" stroke="#231f20" stroke-width="1.5"/>
<line x1="119.8" y1="1276.8" x2="123.4" y2="1276.8" stroke="#231f20" stroke-width="1.5"/>
<line x1="119.8" y1="1319" x2="123.4" y2="1319" stroke="#231f20" stroke-width="1.5"/>
<line x1="119.8" y1="1361" x2="123.4" y2="1361" stroke="#231f20" stroke-width="1.5"/>
<line x1="119.8" y1="1402.8" x2="123.4" y2="1402.8" stroke="#231f20" stroke-width="1.5"/>
<line x1="119.8" y1="1361" x2="362.5" y2="1361" stroke="#231f20" stroke-width="1.7" stroke-dasharray="10.5 6.2"/>
<path d="M159,1410.5 L159.91,1410.17 L161.05,1409.75 L162.37,1409.27 L163.86,1408.73 L165.48,1408.14 L167.21,1407.51 L169,1406.85 L170.84,1406.17 L172.69,1405.49 L174.52,1404.81 L176.3,1404.14 L178,1403.5 L179.67,1402.88 L181.37,1402.27 L183.09,1401.66 L184.83,1401.05 L186.58,1400.43 L188.33,1399.8 L190.09,1399.15 L191.84,1398.47 L193.58,1397.77 L195.31,1397.02 L197.02,1396.24 L198.7,1395.4 L200.35,1394.53 L201.99,1393.64 L203.6,1392.72 L205.2,1391.78 L206.79,1390.81 L208.38,1389.8 L209.96,1388.75 L211.54,1387.66 L213.14,1386.53 L214.74,1385.34 L216.36,1384.1 L218,1382.8 L219.67,1381.43 L221.37,1379.99 L223.09,1378.49 L224.83,1376.94 L226.58,1375.33 L228.32,1373.69 L230.06,1372.02 L231.78,1370.33 L233.47,1368.62 L235.12,1366.91 L236.74,1365.2 L238.3,1363.5 L239.8,1361.81 L241.24,1360.11 L242.63,1358.41 L243.98,1356.69 L245.3,1354.96 L246.61,1353.22 L247.92,1351.45 L249.23,1349.66 L250.57,1347.85 L251.93,1346 L253.34,1344.12 L254.8,1342.2 L256.31,1340.22 L257.85,1338.18 L259.43,1336.08 L261.02,1333.94 L262.64,1331.77 L264.27,1329.59 L265.91,1327.41 L267.56,1325.25 L269.2,1323.11 L270.85,1321.01 L272.48,1318.97 L274.1,1317 L275.71,1315.07 L277.33,1313.16 L278.95,1311.26 L280.56,1309.39 L282.18,1307.54 L283.8,1305.73 L285.42,1303.96 L287.04,1302.22 L288.65,1300.54 L290.27,1298.9 L291.89,1297.32 L293.5,1295.8 L295.11,1294.33 L296.72,1292.88 L298.33,1291.48 L299.94,1290.11 L301.54,1288.8 L303.15,1287.53 L304.76,1286.32 L306.36,1285.17 L307.97,1284.09 L309.58,1283.08 L311.19,1282.15 L312.8,1281.3 L314.37,1280.54 L315.85,1279.88 L317.29,1279.31 L318.7,1278.81 L320.12,1278.39 L321.56,1278.01 L323.05,1277.69 L324.62,1277.4 L326.29,1277.13 L328.1,1276.89 L330.06,1276.64 L332.2,1276.4 L334.65,1276.17 L337.46,1275.98 L340.55,1275.83 L343.83,1275.71 L347.21,1275.62 L350.61,1275.54 L353.95,1275.49 L357.13,1275.44 L360.07,1275.41 L362.68,1275.38 L364.89,1275.34 L366.6,1275.3" fill="none" stroke="#ef6668" stroke-width="3.8" stroke-linejoin="round"/>
<circle cx="158.6" cy="1411.5" r="7.4" fill="none" stroke="#ef6668" stroke-width="1.8"/>
<circle cx="198.7" cy="1394.4" r="7.4" fill="none" stroke="#ef6668" stroke-width="1.8"/>
<circle cx="238.3" cy="1363.5" r="7.4" fill="none" stroke="#ef6668" stroke-width="1.8"/>
<circle cx="282.2" cy="1307.8" r="7.4" fill="none" stroke="#ef6668" stroke-width="1.8"/>
<circle cx="325" cy="1276.4" r="7.4" fill="none" stroke="#ef6668" stroke-width="1.8"/>
<circle cx="366.6" cy="1276.4" r="7.4" fill="none" stroke="#ef6668" stroke-width="1.8"/>
<g transform="translate(47.58 1339.38) scale(1.0325 1)"><text x="0" y="0" font-size="42.45" font-style="italic" fill="#231f20" xml:space="preserve">d’</text></g>
<g transform="translate(94.31 1284.9) scale(1.0000 1)"><text x="0" y="0" font-size="30.6" fill="#231f20" xml:space="preserve">2</text></g>
<g transform="translate(95.71 1369.1) scale(1.0000 1)"><text x="0" y="0" font-size="30.6" fill="#231f20" xml:space="preserve">1</text><rect x="0.92" y="-2.91" width="6.61" height="3.83" fill="#fff"/><rect x="10.53" y="-2.91" width="6.61" height="3.83" fill="#fff"/></g>
<g transform="translate(94.27 1447.19) scale(1.0000 1)"><text x="0" y="0" font-size="30.6" fill="#231f20" xml:space="preserve">0</text></g>
<g transform="translate(86.65 1479.69) scale(1.0000 1)"><text x="0" y="0" font-size="30.6" fill="#231f20" xml:space="preserve">-18</text><rect x="11.11" y="-2.91" width="6.61" height="3.83" fill="#fff"/><rect x="20.72" y="-2.91" width="6.61" height="3.83" fill="#fff"/></g>
<g transform="translate(173.82 1480) scale(1.0000 1)"><text x="0" y="0" font-size="30.6" fill="#231f20" xml:space="preserve">-12</text><rect x="11.11" y="-2.91" width="6.61" height="3.83" fill="#fff"/><rect x="20.72" y="-2.91" width="6.61" height="3.83" fill="#fff"/></g>
<g transform="translate(269.78 1479.69) scale(1.0000 1)"><text x="0" y="0" font-size="30.6" fill="#231f20" xml:space="preserve">-6</text></g>
<g transform="translate(357.77 1479.69) scale(1.0000 1)"><text x="0" y="0" font-size="30.6" fill="#231f20" xml:space="preserve">0</text></g>
<g transform="translate(71.23 1513) scale(1.0000 1)"><text x="0" y="0" font-size="29.7" fill="#231f20" xml:space="preserve">AM Depth (dB re: 100%)</text><rect x="238.62" y="-2.82" width="6.42" height="3.71" fill="#fff"/><rect x="247.95" y="-2.82" width="6.42" height="3.71" fill="#fff"/></g>
<g transform="translate(-1.05 1613) scale(1.0243 1)"><text x="0" y="0" font-size="50.07" font-weight="bold" fill="#231f20" xml:space="preserve">d</text></g>
<g transform="translate(153.62 1601.6) scale(1.0000 1)"><text x="0" y="0" font-size="33.72" fill="#231f20" xml:space="preserve">All sessions</text></g>
<line x1="119.4" y1="1625.6" x2="119.4" y2="1825.2" stroke="#231f20" stroke-width="2"/>
<line x1="118.4" y1="1824.2" x2="367.4" y2="1824.2" stroke="#231f20" stroke-width="2"/>
<line x1="158.5" y1="1824.2" x2="158.5" y2="1820" stroke="#231f20" stroke-width="1.5"/>
<line x1="198.5" y1="1824.2" x2="198.5" y2="1820" stroke="#231f20" stroke-width="1.5"/>
<line x1="238.6" y1="1824.2" x2="238.6" y2="1820" stroke="#231f20" stroke-width="1.5"/>
<line x1="281.8" y1="1824.2" x2="281.8" y2="1820" stroke="#231f20" stroke-width="1.5"/>
<line x1="325" y1="1824.2" x2="325" y2="1820" stroke="#231f20" stroke-width="1.5"/>
<line x1="366.6" y1="1824.2" x2="366.6" y2="1820" stroke="#231f20" stroke-width="1.5"/>
<line x1="119.4" y1="1655.4" x2="123" y2="1655.4" stroke="#231f20" stroke-width="1.5"/>
<line x1="119.4" y1="1697.7" x2="123" y2="1697.7" stroke="#231f20" stroke-width="1.5"/>
<line x1="119.4" y1="1739.3" x2="123" y2="1739.3" stroke="#231f20" stroke-width="1.5"/>
<line x1="119.4" y1="1781.9" x2="123" y2="1781.9" stroke="#231f20" stroke-width="1.5"/>
<path d="M119.4,1725.9 L153,1698.6 L196,1671.4 L238.6,1640.7 L283.4,1640.7" fill="none" stroke="#12b3b1" stroke-width="3.8" stroke-linejoin="round"/>
<path d="M119.4,1809.1 L152.1,1822.6 L196,1749.6 L239.5,1716 L283.4,1675.9" fill="none" stroke="#ef6668" stroke-width="3.8" stroke-linejoin="round"/>
<g transform="translate(47.38 1718.38) scale(1.0392 1)"><text x="0" y="0" font-size="42.18" font-style="italic" fill="#231f20" xml:space="preserve">d’</text></g>
<g transform="translate(94.31 1663.8) scale(1.0000 1)"><text x="0" y="0" font-size="30.6" fill="#231f20" xml:space="preserve">2</text></g>
<g transform="translate(95.91 1747.6) scale(1.0000 1)"><text x="0" y="0" font-size="30.6" fill="#231f20" xml:space="preserve">1</text><rect x="0.92" y="-2.91" width="6.61" height="3.83" fill="#fff"/><rect x="10.53" y="-2.91" width="6.61" height="3.83" fill="#fff"/></g>
<g transform="translate(94.27 1826.29) scale(1.0000 1)"><text x="0" y="0" font-size="30.6" fill="#231f20" xml:space="preserve">0</text></g>
<g transform="translate(291.44 1649.7) scale(1.0000 1)"><text x="0" y="0" font-size="31.17" fill="#12b3b1" xml:space="preserve">Ctrl</text></g>
<g transform="translate(290.38 1680) scale(1.0000 1)"><text x="0" y="0" font-size="25.89" fill="#12b3b1" xml:space="preserve">(n=88 sessions)</text></g>
<g transform="translate(236.04 1748.3) scale(1.0000 1)"><text x="0" y="0" font-size="31.05" fill="#ef6668" xml:space="preserve">HL</text></g>
<g transform="translate(235.99 1777.7) scale(1.0000 1)"><text x="0" y="0" font-size="25.79" fill="#ef6668" xml:space="preserve">(n=71 sessions)</text><rect x="53.1" y="-2.45" width="5.57" height="3.22" fill="#fff"/><rect x="61.2" y="-2.45" width="5.57" height="3.22" fill="#fff"/></g>
<g transform="translate(87.15 1857.99) scale(1.0000 1)"><text x="0" y="0" font-size="30.6" fill="#231f20" xml:space="preserve">-18</text><rect x="11.11" y="-2.91" width="6.61" height="3.83" fill="#fff"/><rect x="20.72" y="-2.91" width="6.61" height="3.83" fill="#fff"/></g>
<g transform="translate(174.57 1858.3) scale(1.0000 1)"><text x="0" y="0" font-size="30.6" fill="#231f20" xml:space="preserve">-12</text><rect x="11.11" y="-2.91" width="6.61" height="3.83" fill="#fff"/><rect x="20.72" y="-2.91" width="6.61" height="3.83" fill="#fff"/></g>
<g transform="translate(270.23 1857.99) scale(1.0000 1)"><text x="0" y="0" font-size="30.6" fill="#231f20" xml:space="preserve">-6</text></g>
<g transform="translate(357.77 1857.99) scale(1.0000 1)"><text x="0" y="0" font-size="30.6" fill="#231f20" xml:space="preserve">0</text></g>
<g transform="translate(71.93 1898.8) scale(1.0000 1)"><text x="0" y="0" font-size="29.66" fill="#231f20" xml:space="preserve">AM Depth (dB re: 100%)</text><rect x="238.25" y="-2.82" width="6.41" height="3.71" fill="#fff"/><rect x="247.56" y="-2.82" width="6.41" height="3.71" fill="#fff"/></g>
<g transform="translate(493.97 894.79) scale(1.0014 1)"><text x="0" y="0" font-size="50.59" font-weight="bold" fill="#231f20" xml:space="preserve">c</text></g>
<g transform="translate(922.83 903) scale(1.0000 1)"><text x="0" y="0" font-size="33.73" fill="#231f20" xml:space="preserve">Within-session</text></g>
<g transform="translate(627 985.3) scale(1.0000 1)"><text x="0" y="0" font-size="29.91" fill="#12b3b1" xml:space="preserve">Ctrl (n=19 sessions)</text><rect x="99.78" y="-2.84" width="6.46" height="3.74" fill="#fff"/><rect x="109.18" y="-2.84" width="6.46" height="3.74" fill="#fff"/></g>
<g transform="translate(626.73 1028.6) scale(1.0000 1)"><text x="0" y="0" font-size="29.99" fill="#ef6668" xml:space="preserve">HL (n=34 sessions)</text></g>
<line x1="659.2" y1="1558.6" x2="1363.6" y2="1227.8" stroke="#f6b3b3" stroke-width="5.6" stroke-dasharray="9.75 7.15" stroke-dashoffset="4.7"/>
<line x1="594.6" y1="1665.5" x2="1171.6" y2="1386" stroke="#80d8d6" stroke-width="5.6" stroke-dasharray="9.75 7.15" stroke-dashoffset="6.3"/>
<circle cx="1301.5" cy="987.2" r="11.6" fill="#ef6668" stroke="none" stroke-width="0"/>
<circle cx="1295.5" cy="1059.3" r="11.6" fill="#ef6668" stroke="none" stroke-width="0"/>
<circle cx="1306.3" cy="1093.3" r="11.6" fill="#ef6668" stroke="none" stroke-width="0"/>
<circle cx="963.3" cy="1075.3" r="11.6" fill="#ef6668" stroke="none" stroke-width="0"/>
<circle cx="961.3" cy="1116.5" r="11.6" fill="#ef6668" stroke="none" stroke-width="0"/>
<circle cx="961.3" cy="1157.4" r="11.6" fill="#ef6668" stroke="none" stroke-width="0"/>
<circle cx="1225.9" cy="1200.6" r="11.6" fill="#ef6668" stroke="none" stroke-width="0"/>
<circle cx="1172.2" cy="1220.2" r="11.6" fill="#ef6668" stroke="none" stroke-width="0"/>
<circle cx="961.3" cy="1258.3" r="11.6" fill="#ef6668" stroke="none" stroke-width="0"/>
<circle cx="1331.2" cy="1249.4" r="11.6" fill="#ef6668" stroke="none" stroke-width="0"/>
<circle cx="1102.6" cy="1305.2" r="11.6" fill="#ef6668" stroke="none" stroke-width="0"/>
<circle cx="1090.1" cy="1339.1" r="11.6" fill="#ef6668" stroke="none" stroke-width="0"/>
<circle cx="1172.7" cy="1350.5" r="11.6" fill="#ef6668" stroke="none" stroke-width="0"/>
<circle cx="1024.9" cy="1376.8" r="11.6" fill="#ef6668" stroke="none" stroke-width="0"/>
<circle cx="1186.3" cy="1387.5" r="11.6" fill="#ef6668" stroke="none" stroke-width="0"/>
<circle cx="1088.6" cy="1396.1" r="11.6" fill="#ef6668" stroke="none" stroke-width="0"/>
<circle cx="1287.3" cy="1401.5" r="11.6" fill="#ef6668" stroke="none" stroke-width="0"/>
<circle cx="875" cy="1417.9" r="11.6" fill="#ef6668" stroke="none" stroke-width="0"/>
<circle cx="840.6" cy="1432" r="11.6" fill="#ef6668" stroke="none" stroke-width="0"/>
<circle cx="1077.4" cy="1413.4" r="11.6" fill="#ef6668" stroke="none" stroke-width="0"/>
<circle cx="1092.1" cy="1421.4" r="11.6" fill="#ef6668" stroke="none" stroke-width="0"/>
<circle cx="1044.8" cy="1420.1" r="11.6" fill="#ef6668" stroke="none" stroke-width="0"/>
<circle cx="1214.8" cy="1437.4" r="11.6" fill="#ef6668" stroke="none" stroke-width="0"/>
<circle cx="965.2" cy="1453.5" r="11.6" fill="#ef6668" stroke="none" stroke-width="0"/>
<circle cx="1018.2" cy="1468" r="11.6" fill="#ef6668" stroke="none" stroke-width="0"/>
<circle cx="840.6" cy="1495.3" r="11.6" fill="#ef6668" stroke="none" stroke-width="0"/>
<circle cx="695.2" cy="1521.2" r="11.6" fill="#ef6668" stroke="none" stroke-width="0"/>
<circle cx="691.5" cy="1538.7" r="11.6" fill="#ef6668" stroke="none" stroke-width="0"/>
<circle cx="967.9" cy="1575.9" r="11.6" fill="#ef6668" stroke="none" stroke-width="0"/>
<circle cx="1000.9" cy="1582.6" r="11.6" fill="#ef6668" stroke="none" stroke-width="0"/>
<circle cx="990.9" cy="1594.2" r="11.6" fill="#ef6668" stroke="none" stroke-width="0"/>
<circle cx="1088.7" cy="1601" r="11.6" fill="#ef6668" stroke="none" stroke-width="0"/>
<circle cx="1172.1" cy="1611.7" r="11.6" fill="#ef6668" stroke="none" stroke-width="0"/>
<circle cx="1018.1" cy="1640" r="11.6" fill="#ef6668" stroke="none" stroke-width="0"/>
<line x1="626.4" y1="1632" x2="1364.4" y2="1212.2" stroke="#000" stroke-opacity="0.35" stroke-width="16" stroke-linecap="round"/>
<circle cx="967.8" cy="1276.5" r="14.7" fill="#12b3b1" stroke="none" stroke-width="0"/>
<circle cx="1042.1" cy="1328.2" r="14.7" fill="#12b3b1" stroke="none" stroke-width="0"/>
<circle cx="1038.1" cy="1412.2" r="14.7" fill="#12b3b1" stroke="none" stroke-width="0"/>
<circle cx="1140.1" cy="1419.3" r="14.7" fill="#12b3b1" stroke="none" stroke-width="0"/>
<circle cx="1091.5" cy="1488" r="14.7" fill="#12b3b1" stroke="none" stroke-width="0"/>
<circle cx="701.5" cy="1467.6" r="14.7" fill="#12b3b1" stroke="none" stroke-width="0"/>
<circle cx="701.5" cy="1505.2" r="14.7" fill="#12b3b1" stroke="none" stroke-width="0"/>
<circle cx="848.9" cy="1460.8" r="14.7" fill="#12b3b1" stroke="none" stroke-width="0"/>
<circle cx="848.9" cy="1484.9" r="14.7" fill="#12b3b1" stroke="none" stroke-width="0"/>
<circle cx="848.9" cy="1544.1" r="14.7" fill="#12b3b1" stroke="none" stroke-width="0"/>
<circle cx="848.9" cy="1571" r="14.7" fill="#12b3b1" stroke="none" stroke-width="0"/>
<circle cx="912.5" cy="1553.5" r="14.7" fill="#12b3b1" stroke="none" stroke-width="0"/>
<circle cx="985.6" cy="1539.2" r="14.7" fill="#12b3b1" stroke="none" stroke-width="0"/>
<circle cx="701.5" cy="1599.9" r="14.7" fill="#12b3b1" stroke="none" stroke-width="0"/>
<circle cx="840.9" cy="1601.5" r="14.7" fill="#12b3b1" stroke="none" stroke-width="0"/>
<circle cx="975.4" cy="1626.6" r="14.7" fill="#12b3b1" stroke="none" stroke-width="0"/>
<circle cx="701.3" cy="1718" r="14.7" fill="#12b3b1" stroke="none" stroke-width="0"/>
<circle cx="834.8" cy="1744" r="14.7" fill="#12b3b1" stroke="none" stroke-width="0"/>
<line x1="594.6" y1="948.7" x2="594.6" y2="1826.4" stroke="#231f20" stroke-width="1.8"/>
<line x1="593.7" y1="1825.5" x2="1470.5" y2="1825.5" stroke="#231f20" stroke-width="1.8"/>
<line x1="594.6" y1="949.6" x2="606.6" y2="949.6" stroke="#231f20" stroke-width="1.8"/>
<line x1="594.6" y1="1157.9" x2="606.6" y2="1157.9" stroke="#231f20" stroke-width="1.8"/>
<line x1="594.6" y1="1366.6" x2="606.6" y2="1366.6" stroke="#231f20" stroke-width="1.8"/>
<line x1="594.6" y1="1575.2" x2="606.6" y2="1575.2" stroke="#231f20" stroke-width="1.8"/>
<line x1="594.6" y1="1783.4" x2="606.6" y2="1783.4" stroke="#231f20" stroke-width="1.8"/>
<line x1="621.7" y1="1825.5" x2="621.7" y2="1812.5" stroke="#231f20" stroke-width="1.8"/>
<line x1="832.9" y1="1825.5" x2="832.9" y2="1812.5" stroke="#231f20" stroke-width="1.8"/>
<line x1="1045.6" y1="1825.5" x2="1045.6" y2="1812.5" stroke="#231f20" stroke-width="1.8"/>
<line x1="1257" y1="1825.5" x2="1257" y2="1812.5" stroke="#231f20" stroke-width="1.8"/>
<line x1="1469.6" y1="1825.5" x2="1469.6" y2="1812.5" stroke="#231f20" stroke-width="1.8"/>
<g transform="translate(567.16 959.39) scale(1.0000 1)"><text x="0" y="0" font-size="30.6" fill="#231f20" xml:space="preserve">0</text></g>
<g transform="translate(557.07 1167.69) scale(1.0000 1)"><text x="0" y="0" font-size="30.6" fill="#231f20" xml:space="preserve">-5</text></g>
<g transform="translate(539.93 1376.39) scale(1.0000 1)"><text x="0" y="0" font-size="30.6" fill="#231f20" xml:space="preserve">-10</text><rect x="11.11" y="-2.91" width="6.61" height="3.83" fill="#fff"/><rect x="20.72" y="-2.91" width="6.61" height="3.83" fill="#fff"/></g>
<g transform="translate(540.01 1584.99) scale(1.0000 1)"><text x="0" y="0" font-size="30.6" fill="#231f20" xml:space="preserve">-15</text><rect x="11.11" y="-2.91" width="6.61" height="3.83" fill="#fff"/><rect x="20.72" y="-2.91" width="6.61" height="3.83" fill="#fff"/></g>
<g transform="translate(539.93 1793.19) scale(1.0000 1)"><text x="0" y="0" font-size="30.6" fill="#231f20" xml:space="preserve">-20</text></g>
<g transform="translate(597.78 1860.49) scale(1.0000 1)"><text x="0" y="0" font-size="30.6" fill="#231f20" xml:space="preserve">-20</text></g>
<g transform="translate(810.32 1860.49) scale(1.0000 1)"><text x="0" y="0" font-size="30.6" fill="#231f20" xml:space="preserve">-15</text><rect x="11.11" y="-2.91" width="6.61" height="3.83" fill="#fff"/><rect x="20.72" y="-2.91" width="6.61" height="3.83" fill="#fff"/></g>
<g transform="translate(1022.78 1860.49) scale(1.0000 1)"><text x="0" y="0" font-size="30.6" fill="#231f20" xml:space="preserve">-10</text><rect x="11.11" y="-2.91" width="6.61" height="3.83" fill="#fff"/><rect x="20.72" y="-2.91" width="6.61" height="3.83" fill="#fff"/></g>
<g transform="translate(1243.84 1860.49) scale(1.0000 1)"><text x="0" y="0" font-size="30.6" fill="#231f20" xml:space="preserve">-5</text></g>
<g transform="translate(1461.07 1860.49) scale(1.0000 1)"><text x="0" y="0" font-size="30.6" fill="#231f20" xml:space="preserve">0</text></g>
<g transform="translate(740.34 1897.1) scale(1.0000 1)"><text x="0" y="0" font-size="29.78" fill="#231f20" xml:space="preserve">Neural population threshold (dB re: 100%)</text><rect x="470.99" y="-2.83" width="6.43" height="3.72" fill="#fff"/><rect x="480.34" y="-2.83" width="6.43" height="3.72" fill="#fff"/></g>
<g transform="translate(526.1 1612.46) rotate(-90) scale(1.0000 1)"><text x="0" y="0" font-size="29.78" fill="#231f20" xml:space="preserve">Behavior threshold (dB re: 100%)</text><rect x="355.09" y="-2.83" width="6.43" height="3.72" fill="#fff"/><rect x="364.44" y="-2.83" width="6.43" height="3.72" fill="#fff"/></g>
<g transform="translate(1217.68 1746) scale(1.0000 1)"><text x="0" y="0" font-size="29.68" fill="#12b3b1" xml:space="preserve"><tspan font-style="italic">r</tspan><tspan> = 0.58, </tspan><tspan font-style="italic">p</tspan><tspan> = 0.008</tspan></text></g>
<g transform="translate(1217.68 1706) scale(1.0000 1)"><text x="0" y="0" font-size="29.68" fill="#231f20" xml:space="preserve"><tspan font-style="italic">r</tspan><tspan> = 0.6, </tspan><tspan font-style="italic">p</tspan><tspan> = 3.6 x 10</tspan></text><rect x="225.25" y="-2.82" width="6.41" height="3.71" fill="#fff"/><rect x="234.57" y="-2.82" width="6.41" height="3.71" fill="#fff"/></g>
<g transform="translate(1473.86 1697) scale(1.0000 1)"><text x="0" y="0" font-size="18.75" fill="#231f20" xml:space="preserve">-6</text></g>
<g transform="translate(1217.68 1787.8) scale(1.0000 1)"><text x="0" y="0" font-size="29.68" fill="#ef6668" xml:space="preserve"><tspan font-style="italic">r</tspan><tspan> = 0.44, </tspan><tspan font-style="italic">p</tspan><tspan> = 0.01</tspan></text><rect x="210.43" y="-2.82" width="6.41" height="3.71" fill="#fff"/><rect x="219.75" y="-2.82" width="6.41" height="3.71" fill="#fff"/></g>
</svg></body></html>
